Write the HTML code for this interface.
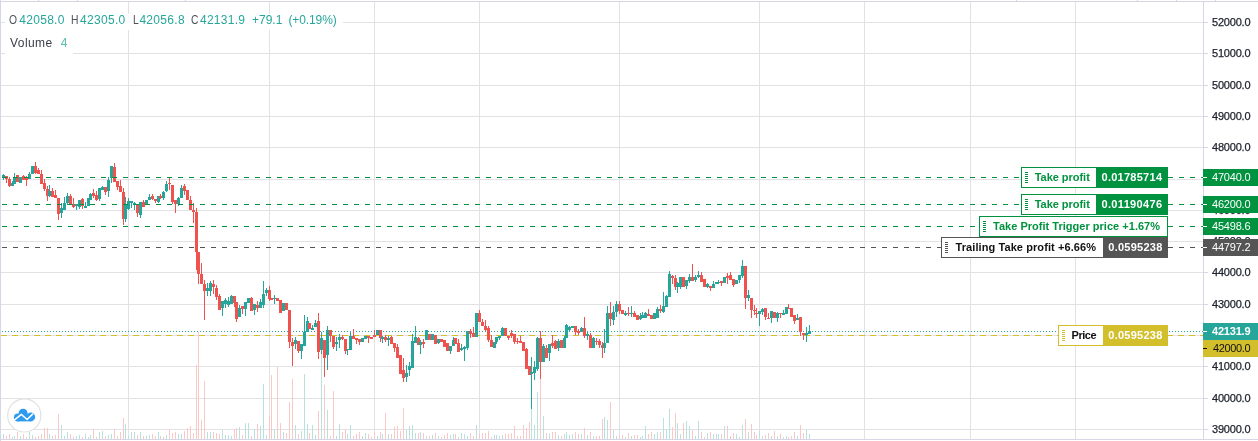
<!DOCTYPE html>
<html><head><meta charset="utf-8"><title>chart</title>
<style>
html,body{margin:0;padding:0;background:#fff;}
body{width:1258px;height:441px;position:relative;overflow:hidden;font-family:"Liberation Sans",sans-serif;}
span{white-space:nowrap;}
.ax{position:absolute;left:1203px;width:55px;height:14px;line-height:14px;font-size:11px;color:#1c202b;-webkit-text-stroke:0.25px #1c202b;white-space:nowrap;}
.pl{position:absolute;left:1203px;width:55px;height:17px;line-height:17px;font-size:11px;white-space:nowrap;}
.pl b{position:absolute;left:0;top:8px;width:4px;height:1px;}
.box{position:absolute;height:21px;box-sizing:border-box;border:1px solid #00923f;background:#fff;font-weight:bold;font-size:11px;line-height:17px;white-space:nowrap;}
.box .v{position:absolute;top:0;height:19px;color:#fff;}
i{position:absolute;width:3px;height:1px;display:block;}
.lgb{position:absolute;background:#fff;}
.lg{position:absolute;left:0;white-space:nowrap;font-size:12px;color:#26a69a;}
</style></head><body>
<svg width="1258" height="441" viewBox="0 0 1258 441" shape-rendering="crispEdges" style="position:absolute;left:0;top:0">
<rect width="1258" height="441" fill="#fff"/>
<rect x="0" y="22" width="1203" height="1" fill="#e2e2e6"/>
<rect x="0" y="53" width="1203" height="1" fill="#e2e2e6"/>
<rect x="0" y="85" width="1203" height="1" fill="#e2e2e6"/>
<rect x="0" y="116" width="1203" height="1" fill="#e2e2e6"/>
<rect x="0" y="147" width="1203" height="1" fill="#e2e2e6"/>
<rect x="0" y="179" width="1203" height="1" fill="#e2e2e6"/>
<rect x="0" y="210" width="1203" height="1" fill="#e2e2e6"/>
<rect x="0" y="241" width="1203" height="1" fill="#e2e2e6"/>
<rect x="0" y="272" width="1203" height="1" fill="#e2e2e6"/>
<rect x="0" y="304" width="1203" height="1" fill="#e2e2e6"/>
<rect x="0" y="335" width="1203" height="1" fill="#e2e2e6"/>
<rect x="0" y="366" width="1203" height="1" fill="#e2e2e6"/>
<rect x="0" y="398" width="1203" height="1" fill="#e2e2e6"/>
<rect x="0" y="429" width="1203" height="1" fill="#e2e2e6"/>
<rect x="128" y="2" width="1" height="437" fill="#e2e2e6"/>
<rect x="269" y="2" width="1" height="437" fill="#e2e2e6"/>
<rect x="374" y="2" width="1" height="437" fill="#e2e2e6"/>
<rect x="479" y="2" width="1" height="437" fill="#e2e2e6"/>
<rect x="619" y="2" width="1" height="437" fill="#e2e2e6"/>
<rect x="759" y="2" width="1" height="437" fill="#e2e2e6"/>
<rect x="864" y="2" width="1" height="437" fill="#e2e2e6"/>
<rect x="970" y="2" width="1" height="437" fill="#e2e2e6"/>
<rect x="1075" y="2" width="1" height="437" fill="#e2e2e6"/>
<rect x="3" y="434" width="1" height="5" fill="#b9e1dd"/>
<rect x="6" y="436" width="1" height="3" fill="#f9c9c8"/>
<rect x="9" y="434" width="1" height="5" fill="#f9c9c8"/>
<rect x="12" y="437" width="1" height="2" fill="#b9e1dd"/>
<rect x="14" y="436" width="1" height="3" fill="#b9e1dd"/>
<rect x="17" y="432" width="1" height="7" fill="#f9c9c8"/>
<rect x="20" y="436" width="1" height="3" fill="#b9e1dd"/>
<rect x="23" y="434" width="1" height="5" fill="#f9c9c8"/>
<rect x="26" y="437" width="1" height="2" fill="#f9c9c8"/>
<rect x="29" y="432" width="1" height="7" fill="#b9e1dd"/>
<rect x="32" y="435" width="1" height="4" fill="#b9e1dd"/>
<rect x="35" y="437" width="1" height="2" fill="#f9c9c8"/>
<rect x="38" y="436" width="1" height="3" fill="#f9c9c8"/>
<rect x="41" y="434" width="1" height="5" fill="#f9c9c8"/>
<rect x="44" y="428" width="1" height="11" fill="#f9c9c8"/>
<rect x="47" y="428" width="1" height="11" fill="#f9c9c8"/>
<rect x="49" y="434" width="1" height="5" fill="#b9e1dd"/>
<rect x="52" y="436" width="1" height="3" fill="#f9c9c8"/>
<rect x="55" y="435" width="1" height="4" fill="#f9c9c8"/>
<rect x="58" y="414" width="1" height="25" fill="#f9c9c8"/>
<rect x="61" y="425" width="1" height="14" fill="#b9e1dd"/>
<rect x="64" y="436" width="1" height="3" fill="#b9e1dd"/>
<rect x="67" y="432" width="1" height="7" fill="#b9e1dd"/>
<rect x="70" y="434" width="1" height="5" fill="#f9c9c8"/>
<rect x="73" y="437" width="1" height="2" fill="#f9c9c8"/>
<rect x="76" y="436" width="1" height="3" fill="#b9e1dd"/>
<rect x="79" y="435" width="1" height="4" fill="#b9e1dd"/>
<rect x="82" y="437" width="1" height="2" fill="#f9c9c8"/>
<rect x="85" y="434" width="1" height="5" fill="#b9e1dd"/>
<rect x="88" y="437" width="1" height="2" fill="#b9e1dd"/>
<rect x="90" y="435" width="1" height="4" fill="#b9e1dd"/>
<rect x="93" y="429" width="1" height="10" fill="#f9c9c8"/>
<rect x="96" y="437" width="1" height="2" fill="#f9c9c8"/>
<rect x="99" y="432" width="1" height="7" fill="#b9e1dd"/>
<rect x="102" y="431" width="1" height="8" fill="#b9e1dd"/>
<rect x="105" y="436" width="1" height="3" fill="#f9c9c8"/>
<rect x="108" y="435" width="1" height="4" fill="#b9e1dd"/>
<rect x="111" y="434" width="1" height="5" fill="#b9e1dd"/>
<rect x="114" y="429" width="1" height="10" fill="#f9c9c8"/>
<rect x="117" y="436" width="1" height="3" fill="#f9c9c8"/>
<rect x="120" y="432" width="1" height="7" fill="#f9c9c8"/>
<rect x="123" y="418" width="1" height="21" fill="#f9c9c8"/>
<rect x="125" y="424" width="1" height="15" fill="#b9e1dd"/>
<rect x="128" y="436" width="1" height="3" fill="#b9e1dd"/>
<rect x="131" y="432" width="1" height="7" fill="#b9e1dd"/>
<rect x="134" y="432" width="1" height="7" fill="#b9e1dd"/>
<rect x="137" y="435" width="1" height="4" fill="#f9c9c8"/>
<rect x="140" y="432" width="1" height="7" fill="#b9e1dd"/>
<rect x="143" y="436" width="1" height="3" fill="#f9c9c8"/>
<rect x="146" y="436" width="1" height="3" fill="#b9e1dd"/>
<rect x="149" y="435" width="1" height="4" fill="#b9e1dd"/>
<rect x="152" y="434" width="1" height="5" fill="#f9c9c8"/>
<rect x="155" y="436" width="1" height="3" fill="#f9c9c8"/>
<rect x="158" y="432" width="1" height="7" fill="#b9e1dd"/>
<rect x="160" y="436" width="1" height="3" fill="#f9c9c8"/>
<rect x="163" y="437" width="1" height="2" fill="#b9e1dd"/>
<rect x="166" y="435" width="1" height="4" fill="#b9e1dd"/>
<rect x="169" y="429" width="1" height="10" fill="#f9c9c8"/>
<rect x="172" y="433" width="1" height="6" fill="#f9c9c8"/>
<rect x="175" y="432" width="1" height="7" fill="#f9c9c8"/>
<rect x="178" y="434" width="1" height="5" fill="#b9e1dd"/>
<rect x="181" y="434" width="1" height="5" fill="#b9e1dd"/>
<rect x="184" y="431" width="1" height="8" fill="#f9c9c8"/>
<rect x="187" y="428" width="1" height="11" fill="#f9c9c8"/>
<rect x="190" y="426" width="1" height="13" fill="#f9c9c8"/>
<rect x="193" y="433" width="1" height="6" fill="#f9c9c8"/>
<rect x="196" y="365" width="1" height="74" fill="#f9c9c8"/>
<rect x="198" y="332" width="1" height="107" fill="#f9c9c8"/>
<rect x="201" y="420" width="1" height="19" fill="#f9c9c8"/>
<rect x="204" y="381" width="1" height="58" fill="#f9c9c8"/>
<rect x="207" y="432" width="1" height="7" fill="#b9e1dd"/>
<rect x="210" y="432" width="1" height="7" fill="#b9e1dd"/>
<rect x="213" y="432" width="1" height="7" fill="#f9c9c8"/>
<rect x="216" y="433" width="1" height="6" fill="#f9c9c8"/>
<rect x="219" y="434" width="1" height="5" fill="#f9c9c8"/>
<rect x="222" y="430" width="1" height="9" fill="#b9e1dd"/>
<rect x="225" y="435" width="1" height="4" fill="#b9e1dd"/>
<rect x="228" y="435" width="1" height="4" fill="#b9e1dd"/>
<rect x="231" y="436" width="1" height="3" fill="#b9e1dd"/>
<rect x="234" y="429" width="1" height="10" fill="#f9c9c8"/>
<rect x="236" y="428" width="1" height="11" fill="#f9c9c8"/>
<rect x="239" y="427" width="1" height="12" fill="#b9e1dd"/>
<rect x="242" y="435" width="1" height="4" fill="#f9c9c8"/>
<rect x="245" y="423" width="1" height="16" fill="#b9e1dd"/>
<rect x="248" y="423" width="1" height="16" fill="#b9e1dd"/>
<rect x="251" y="436" width="1" height="3" fill="#f9c9c8"/>
<rect x="254" y="429" width="1" height="10" fill="#b9e1dd"/>
<rect x="257" y="424" width="1" height="15" fill="#f9c9c8"/>
<rect x="260" y="426" width="1" height="13" fill="#b9e1dd"/>
<rect x="263" y="384" width="1" height="55" fill="#b9e1dd"/>
<rect x="266" y="435" width="1" height="4" fill="#b9e1dd"/>
<rect x="269" y="415" width="1" height="24" fill="#f9c9c8"/>
<rect x="271" y="375" width="1" height="64" fill="#f9c9c8"/>
<rect x="274" y="429" width="1" height="10" fill="#b9e1dd"/>
<rect x="277" y="367" width="1" height="72" fill="#f9c9c8"/>
<rect x="280" y="423" width="1" height="16" fill="#f9c9c8"/>
<rect x="283" y="432" width="1" height="7" fill="#b9e1dd"/>
<rect x="286" y="433" width="1" height="6" fill="#f9c9c8"/>
<rect x="289" y="402" width="1" height="37" fill="#f9c9c8"/>
<rect x="292" y="379" width="1" height="60" fill="#f9c9c8"/>
<rect x="295" y="425" width="1" height="14" fill="#b9e1dd"/>
<rect x="298" y="434" width="1" height="5" fill="#f9c9c8"/>
<rect x="301" y="431" width="1" height="8" fill="#b9e1dd"/>
<rect x="304" y="374" width="1" height="65" fill="#b9e1dd"/>
<rect x="307" y="424" width="1" height="15" fill="#b9e1dd"/>
<rect x="309" y="433" width="1" height="6" fill="#f9c9c8"/>
<rect x="312" y="425" width="1" height="14" fill="#b9e1dd"/>
<rect x="315" y="435" width="1" height="4" fill="#b9e1dd"/>
<rect x="318" y="411" width="1" height="28" fill="#f9c9c8"/>
<rect x="321" y="354" width="1" height="85" fill="#b9e1dd"/>
<rect x="324" y="385" width="1" height="54" fill="#f9c9c8"/>
<rect x="327" y="410" width="1" height="29" fill="#b9e1dd"/>
<rect x="330" y="436" width="1" height="3" fill="#f9c9c8"/>
<rect x="333" y="391" width="1" height="48" fill="#f9c9c8"/>
<rect x="336" y="436" width="1" height="3" fill="#b9e1dd"/>
<rect x="339" y="424" width="1" height="15" fill="#b9e1dd"/>
<rect x="342" y="432" width="1" height="7" fill="#f9c9c8"/>
<rect x="345" y="429" width="1" height="10" fill="#f9c9c8"/>
<rect x="347" y="434" width="1" height="5" fill="#b9e1dd"/>
<rect x="350" y="425" width="1" height="14" fill="#b9e1dd"/>
<rect x="353" y="436" width="1" height="3" fill="#f9c9c8"/>
<rect x="356" y="434" width="1" height="5" fill="#f9c9c8"/>
<rect x="359" y="432" width="1" height="7" fill="#f9c9c8"/>
<rect x="362" y="436" width="1" height="3" fill="#b9e1dd"/>
<rect x="365" y="433" width="1" height="6" fill="#b9e1dd"/>
<rect x="368" y="434" width="1" height="5" fill="#f9c9c8"/>
<rect x="371" y="437" width="1" height="2" fill="#f9c9c8"/>
<rect x="374" y="432" width="1" height="7" fill="#f9c9c8"/>
<rect x="377" y="436" width="1" height="3" fill="#b9e1dd"/>
<rect x="380" y="432" width="1" height="7" fill="#f9c9c8"/>
<rect x="382" y="434" width="1" height="5" fill="#b9e1dd"/>
<rect x="385" y="413" width="1" height="26" fill="#f9c9c8"/>
<rect x="388" y="434" width="1" height="5" fill="#b9e1dd"/>
<rect x="391" y="434" width="1" height="5" fill="#f9c9c8"/>
<rect x="394" y="427" width="1" height="12" fill="#f9c9c8"/>
<rect x="397" y="426" width="1" height="13" fill="#f9c9c8"/>
<rect x="400" y="431" width="1" height="8" fill="#f9c9c8"/>
<rect x="403" y="408" width="1" height="31" fill="#f9c9c8"/>
<rect x="406" y="430" width="1" height="9" fill="#b9e1dd"/>
<rect x="409" y="426" width="1" height="13" fill="#b9e1dd"/>
<rect x="412" y="425" width="1" height="14" fill="#b9e1dd"/>
<rect x="415" y="433" width="1" height="6" fill="#b9e1dd"/>
<rect x="418" y="433" width="1" height="6" fill="#f9c9c8"/>
<rect x="420" y="432" width="1" height="7" fill="#b9e1dd"/>
<rect x="423" y="433" width="1" height="6" fill="#f9c9c8"/>
<rect x="426" y="436" width="1" height="3" fill="#b9e1dd"/>
<rect x="429" y="436" width="1" height="3" fill="#f9c9c8"/>
<rect x="432" y="435" width="1" height="4" fill="#b9e1dd"/>
<rect x="435" y="433" width="1" height="6" fill="#f9c9c8"/>
<rect x="438" y="436" width="1" height="3" fill="#b9e1dd"/>
<rect x="441" y="437" width="1" height="2" fill="#f9c9c8"/>
<rect x="444" y="435" width="1" height="4" fill="#f9c9c8"/>
<rect x="447" y="433" width="1" height="6" fill="#f9c9c8"/>
<rect x="450" y="435" width="1" height="4" fill="#b9e1dd"/>
<rect x="453" y="434" width="1" height="5" fill="#b9e1dd"/>
<rect x="455" y="434" width="1" height="5" fill="#f9c9c8"/>
<rect x="458" y="437" width="1" height="2" fill="#f9c9c8"/>
<rect x="461" y="433" width="1" height="6" fill="#b9e1dd"/>
<rect x="464" y="434" width="1" height="5" fill="#b9e1dd"/>
<rect x="467" y="436" width="1" height="3" fill="#b9e1dd"/>
<rect x="470" y="433" width="1" height="6" fill="#f9c9c8"/>
<rect x="473" y="436" width="1" height="3" fill="#f9c9c8"/>
<rect x="476" y="425" width="1" height="14" fill="#b9e1dd"/>
<rect x="479" y="433" width="1" height="6" fill="#f9c9c8"/>
<rect x="482" y="433" width="1" height="6" fill="#f9c9c8"/>
<rect x="485" y="433" width="1" height="6" fill="#f9c9c8"/>
<rect x="488" y="431" width="1" height="8" fill="#f9c9c8"/>
<rect x="491" y="437" width="1" height="2" fill="#f9c9c8"/>
<rect x="494" y="435" width="1" height="4" fill="#b9e1dd"/>
<rect x="496" y="435" width="1" height="4" fill="#b9e1dd"/>
<rect x="499" y="436" width="1" height="3" fill="#b9e1dd"/>
<rect x="502" y="435" width="1" height="4" fill="#b9e1dd"/>
<rect x="505" y="434" width="1" height="5" fill="#f9c9c8"/>
<rect x="508" y="434" width="1" height="5" fill="#f9c9c8"/>
<rect x="511" y="433" width="1" height="6" fill="#f9c9c8"/>
<rect x="514" y="426" width="1" height="13" fill="#f9c9c8"/>
<rect x="517" y="436" width="1" height="3" fill="#f9c9c8"/>
<rect x="520" y="436" width="1" height="3" fill="#f9c9c8"/>
<rect x="523" y="425" width="1" height="14" fill="#f9c9c8"/>
<rect x="526" y="428" width="1" height="11" fill="#f9c9c8"/>
<rect x="529" y="422" width="1" height="17" fill="#f9c9c8"/>
<rect x="531" y="409" width="1" height="30" fill="#b9e1dd"/>
<rect x="534" y="425" width="1" height="14" fill="#b9e1dd"/>
<rect x="537" y="392" width="1" height="47" fill="#b9e1dd"/>
<rect x="540" y="378" width="1" height="61" fill="#f9c9c8"/>
<rect x="543" y="416" width="1" height="23" fill="#b9e1dd"/>
<rect x="546" y="433" width="1" height="6" fill="#f9c9c8"/>
<rect x="549" y="434" width="1" height="5" fill="#b9e1dd"/>
<rect x="552" y="432" width="1" height="7" fill="#f9c9c8"/>
<rect x="555" y="432" width="1" height="7" fill="#f9c9c8"/>
<rect x="558" y="435" width="1" height="4" fill="#b9e1dd"/>
<rect x="561" y="436" width="1" height="3" fill="#f9c9c8"/>
<rect x="564" y="434" width="1" height="5" fill="#b9e1dd"/>
<rect x="566" y="432" width="1" height="7" fill="#b9e1dd"/>
<rect x="569" y="435" width="1" height="4" fill="#b9e1dd"/>
<rect x="572" y="434" width="1" height="5" fill="#b9e1dd"/>
<rect x="575" y="432" width="1" height="7" fill="#f9c9c8"/>
<rect x="578" y="434" width="1" height="5" fill="#f9c9c8"/>
<rect x="581" y="434" width="1" height="5" fill="#b9e1dd"/>
<rect x="584" y="428" width="1" height="11" fill="#f9c9c8"/>
<rect x="587" y="435" width="1" height="4" fill="#b9e1dd"/>
<rect x="590" y="432" width="1" height="7" fill="#f9c9c8"/>
<rect x="593" y="436" width="1" height="3" fill="#b9e1dd"/>
<rect x="596" y="436" width="1" height="3" fill="#f9c9c8"/>
<rect x="599" y="436" width="1" height="3" fill="#f9c9c8"/>
<rect x="602" y="419" width="1" height="20" fill="#f9c9c8"/>
<rect x="604" y="417" width="1" height="22" fill="#b9e1dd"/>
<rect x="607" y="420" width="1" height="19" fill="#b9e1dd"/>
<rect x="610" y="402" width="1" height="37" fill="#f9c9c8"/>
<rect x="613" y="430" width="1" height="9" fill="#b9e1dd"/>
<rect x="616" y="436" width="1" height="3" fill="#b9e1dd"/>
<rect x="619" y="435" width="1" height="4" fill="#f9c9c8"/>
<rect x="622" y="435" width="1" height="4" fill="#f9c9c8"/>
<rect x="625" y="437" width="1" height="2" fill="#b9e1dd"/>
<rect x="628" y="433" width="1" height="6" fill="#f9c9c8"/>
<rect x="631" y="436" width="1" height="3" fill="#b9e1dd"/>
<rect x="634" y="435" width="1" height="4" fill="#f9c9c8"/>
<rect x="637" y="435" width="1" height="4" fill="#f9c9c8"/>
<rect x="640" y="437" width="1" height="2" fill="#b9e1dd"/>
<rect x="642" y="436" width="1" height="3" fill="#b9e1dd"/>
<rect x="645" y="426" width="1" height="13" fill="#b9e1dd"/>
<rect x="648" y="434" width="1" height="5" fill="#f9c9c8"/>
<rect x="651" y="432" width="1" height="7" fill="#f9c9c8"/>
<rect x="654" y="434" width="1" height="5" fill="#b9e1dd"/>
<rect x="657" y="432" width="1" height="7" fill="#b9e1dd"/>
<rect x="660" y="432" width="1" height="7" fill="#f9c9c8"/>
<rect x="663" y="418" width="1" height="21" fill="#b9e1dd"/>
<rect x="666" y="429" width="1" height="10" fill="#b9e1dd"/>
<rect x="669" y="409" width="1" height="30" fill="#b9e1dd"/>
<rect x="672" y="427" width="1" height="12" fill="#f9c9c8"/>
<rect x="675" y="413" width="1" height="26" fill="#f9c9c8"/>
<rect x="677" y="423" width="1" height="16" fill="#b9e1dd"/>
<rect x="680" y="434" width="1" height="5" fill="#b9e1dd"/>
<rect x="683" y="423" width="1" height="16" fill="#f9c9c8"/>
<rect x="686" y="421" width="1" height="18" fill="#b9e1dd"/>
<rect x="689" y="426" width="1" height="13" fill="#b9e1dd"/>
<rect x="692" y="430" width="1" height="9" fill="#f9c9c8"/>
<rect x="695" y="436" width="1" height="3" fill="#b9e1dd"/>
<rect x="698" y="421" width="1" height="18" fill="#b9e1dd"/>
<rect x="701" y="432" width="1" height="7" fill="#f9c9c8"/>
<rect x="704" y="437" width="1" height="2" fill="#f9c9c8"/>
<rect x="707" y="433" width="1" height="6" fill="#b9e1dd"/>
<rect x="710" y="432" width="1" height="7" fill="#f9c9c8"/>
<rect x="713" y="434" width="1" height="5" fill="#b9e1dd"/>
<rect x="716" y="434" width="1" height="5" fill="#b9e1dd"/>
<rect x="718" y="434" width="1" height="5" fill="#b9e1dd"/>
<rect x="721" y="434" width="1" height="5" fill="#f9c9c8"/>
<rect x="724" y="426" width="1" height="13" fill="#b9e1dd"/>
<rect x="727" y="426" width="1" height="13" fill="#f9c9c8"/>
<rect x="730" y="436" width="1" height="3" fill="#f9c9c8"/>
<rect x="733" y="433" width="1" height="6" fill="#f9c9c8"/>
<rect x="736" y="434" width="1" height="5" fill="#b9e1dd"/>
<rect x="739" y="437" width="1" height="2" fill="#b9e1dd"/>
<rect x="742" y="425" width="1" height="14" fill="#b9e1dd"/>
<rect x="745" y="419" width="1" height="20" fill="#f9c9c8"/>
<rect x="748" y="432" width="1" height="7" fill="#b9e1dd"/>
<rect x="751" y="424" width="1" height="15" fill="#f9c9c8"/>
<rect x="754" y="432" width="1" height="7" fill="#f9c9c8"/>
<rect x="756" y="435" width="1" height="4" fill="#f9c9c8"/>
<rect x="759" y="430" width="1" height="9" fill="#b9e1dd"/>
<rect x="762" y="436" width="1" height="3" fill="#b9e1dd"/>
<rect x="765" y="435" width="1" height="4" fill="#f9c9c8"/>
<rect x="768" y="433" width="1" height="6" fill="#f9c9c8"/>
<rect x="771" y="436" width="1" height="3" fill="#b9e1dd"/>
<rect x="774" y="431" width="1" height="8" fill="#f9c9c8"/>
<rect x="777" y="436" width="1" height="3" fill="#b9e1dd"/>
<rect x="780" y="434" width="1" height="5" fill="#f9c9c8"/>
<rect x="783" y="437" width="1" height="2" fill="#b9e1dd"/>
<rect x="786" y="436" width="1" height="3" fill="#b9e1dd"/>
<rect x="788" y="437" width="1" height="2" fill="#f9c9c8"/>
<rect x="791" y="436" width="1" height="3" fill="#f9c9c8"/>
<rect x="794" y="432" width="1" height="7" fill="#f9c9c8"/>
<rect x="797" y="436" width="1" height="3" fill="#b9e1dd"/>
<rect x="800" y="425" width="1" height="14" fill="#f9c9c8"/>
<rect x="803" y="433" width="1" height="6" fill="#f9c9c8"/>
<rect x="806" y="430" width="1" height="9" fill="#b9e1dd"/>
<rect x="809" y="434" width="1" height="5" fill="#b9e1dd"/>
<rect x="2" y="331" width="1" height="1" fill="#26a69a"/><rect x="5" y="331" width="1" height="1" fill="#26a69a"/><rect x="8" y="331" width="1" height="1" fill="#26a69a"/><rect x="11" y="331" width="1" height="1" fill="#26a69a"/><rect x="14" y="331" width="1" height="1" fill="#26a69a"/><rect x="17" y="331" width="1" height="1" fill="#26a69a"/><rect x="20" y="331" width="1" height="1" fill="#26a69a"/><rect x="23" y="331" width="1" height="1" fill="#26a69a"/><rect x="26" y="331" width="1" height="1" fill="#26a69a"/><rect x="29" y="331" width="1" height="1" fill="#26a69a"/><rect x="32" y="331" width="1" height="1" fill="#26a69a"/><rect x="35" y="331" width="1" height="1" fill="#26a69a"/><rect x="38" y="331" width="1" height="1" fill="#26a69a"/><rect x="41" y="331" width="1" height="1" fill="#26a69a"/><rect x="44" y="331" width="1" height="1" fill="#26a69a"/><rect x="47" y="331" width="1" height="1" fill="#26a69a"/><rect x="50" y="331" width="1" height="1" fill="#26a69a"/><rect x="53" y="331" width="1" height="1" fill="#26a69a"/><rect x="56" y="331" width="1" height="1" fill="#26a69a"/><rect x="59" y="331" width="1" height="1" fill="#26a69a"/><rect x="62" y="331" width="1" height="1" fill="#26a69a"/><rect x="65" y="331" width="1" height="1" fill="#26a69a"/><rect x="68" y="331" width="1" height="1" fill="#26a69a"/><rect x="71" y="331" width="1" height="1" fill="#26a69a"/><rect x="74" y="331" width="1" height="1" fill="#26a69a"/><rect x="77" y="331" width="1" height="1" fill="#26a69a"/><rect x="80" y="331" width="1" height="1" fill="#26a69a"/><rect x="83" y="331" width="1" height="1" fill="#26a69a"/><rect x="86" y="331" width="1" height="1" fill="#26a69a"/><rect x="89" y="331" width="1" height="1" fill="#26a69a"/><rect x="92" y="331" width="1" height="1" fill="#26a69a"/><rect x="95" y="331" width="1" height="1" fill="#26a69a"/><rect x="98" y="331" width="1" height="1" fill="#26a69a"/><rect x="101" y="331" width="1" height="1" fill="#26a69a"/><rect x="104" y="331" width="1" height="1" fill="#26a69a"/><rect x="107" y="331" width="1" height="1" fill="#26a69a"/><rect x="110" y="331" width="1" height="1" fill="#26a69a"/><rect x="113" y="331" width="1" height="1" fill="#26a69a"/><rect x="116" y="331" width="1" height="1" fill="#26a69a"/><rect x="119" y="331" width="1" height="1" fill="#26a69a"/><rect x="122" y="331" width="1" height="1" fill="#26a69a"/><rect x="125" y="331" width="1" height="1" fill="#26a69a"/><rect x="128" y="331" width="1" height="1" fill="#26a69a"/><rect x="131" y="331" width="1" height="1" fill="#26a69a"/><rect x="134" y="331" width="1" height="1" fill="#26a69a"/><rect x="137" y="331" width="1" height="1" fill="#26a69a"/><rect x="140" y="331" width="1" height="1" fill="#26a69a"/><rect x="143" y="331" width="1" height="1" fill="#26a69a"/><rect x="146" y="331" width="1" height="1" fill="#26a69a"/><rect x="149" y="331" width="1" height="1" fill="#26a69a"/><rect x="152" y="331" width="1" height="1" fill="#26a69a"/><rect x="155" y="331" width="1" height="1" fill="#26a69a"/><rect x="158" y="331" width="1" height="1" fill="#26a69a"/><rect x="161" y="331" width="1" height="1" fill="#26a69a"/><rect x="164" y="331" width="1" height="1" fill="#26a69a"/><rect x="167" y="331" width="1" height="1" fill="#26a69a"/><rect x="170" y="331" width="1" height="1" fill="#26a69a"/><rect x="173" y="331" width="1" height="1" fill="#26a69a"/><rect x="176" y="331" width="1" height="1" fill="#26a69a"/><rect x="179" y="331" width="1" height="1" fill="#26a69a"/><rect x="182" y="331" width="1" height="1" fill="#26a69a"/><rect x="185" y="331" width="1" height="1" fill="#26a69a"/><rect x="188" y="331" width="1" height="1" fill="#26a69a"/><rect x="191" y="331" width="1" height="1" fill="#26a69a"/><rect x="194" y="331" width="1" height="1" fill="#26a69a"/><rect x="197" y="331" width="1" height="1" fill="#26a69a"/><rect x="200" y="331" width="1" height="1" fill="#26a69a"/><rect x="203" y="331" width="1" height="1" fill="#26a69a"/><rect x="206" y="331" width="1" height="1" fill="#26a69a"/><rect x="209" y="331" width="1" height="1" fill="#26a69a"/><rect x="212" y="331" width="1" height="1" fill="#26a69a"/><rect x="215" y="331" width="1" height="1" fill="#26a69a"/><rect x="218" y="331" width="1" height="1" fill="#26a69a"/><rect x="221" y="331" width="1" height="1" fill="#26a69a"/><rect x="224" y="331" width="1" height="1" fill="#26a69a"/><rect x="227" y="331" width="1" height="1" fill="#26a69a"/><rect x="230" y="331" width="1" height="1" fill="#26a69a"/><rect x="233" y="331" width="1" height="1" fill="#26a69a"/><rect x="236" y="331" width="1" height="1" fill="#26a69a"/><rect x="239" y="331" width="1" height="1" fill="#26a69a"/><rect x="242" y="331" width="1" height="1" fill="#26a69a"/><rect x="245" y="331" width="1" height="1" fill="#26a69a"/><rect x="248" y="331" width="1" height="1" fill="#26a69a"/><rect x="251" y="331" width="1" height="1" fill="#26a69a"/><rect x="254" y="331" width="1" height="1" fill="#26a69a"/><rect x="257" y="331" width="1" height="1" fill="#26a69a"/><rect x="260" y="331" width="1" height="1" fill="#26a69a"/><rect x="263" y="331" width="1" height="1" fill="#26a69a"/><rect x="266" y="331" width="1" height="1" fill="#26a69a"/><rect x="269" y="331" width="1" height="1" fill="#26a69a"/><rect x="272" y="331" width="1" height="1" fill="#26a69a"/><rect x="275" y="331" width="1" height="1" fill="#26a69a"/><rect x="278" y="331" width="1" height="1" fill="#26a69a"/><rect x="281" y="331" width="1" height="1" fill="#26a69a"/><rect x="284" y="331" width="1" height="1" fill="#26a69a"/><rect x="287" y="331" width="1" height="1" fill="#26a69a"/><rect x="290" y="331" width="1" height="1" fill="#26a69a"/><rect x="293" y="331" width="1" height="1" fill="#26a69a"/><rect x="296" y="331" width="1" height="1" fill="#26a69a"/><rect x="299" y="331" width="1" height="1" fill="#26a69a"/><rect x="302" y="331" width="1" height="1" fill="#26a69a"/><rect x="305" y="331" width="1" height="1" fill="#26a69a"/><rect x="308" y="331" width="1" height="1" fill="#26a69a"/><rect x="311" y="331" width="1" height="1" fill="#26a69a"/><rect x="314" y="331" width="1" height="1" fill="#26a69a"/><rect x="317" y="331" width="1" height="1" fill="#26a69a"/><rect x="320" y="331" width="1" height="1" fill="#26a69a"/><rect x="323" y="331" width="1" height="1" fill="#26a69a"/><rect x="326" y="331" width="1" height="1" fill="#26a69a"/><rect x="329" y="331" width="1" height="1" fill="#26a69a"/><rect x="332" y="331" width="1" height="1" fill="#26a69a"/><rect x="335" y="331" width="1" height="1" fill="#26a69a"/><rect x="338" y="331" width="1" height="1" fill="#26a69a"/><rect x="341" y="331" width="1" height="1" fill="#26a69a"/><rect x="344" y="331" width="1" height="1" fill="#26a69a"/><rect x="347" y="331" width="1" height="1" fill="#26a69a"/><rect x="350" y="331" width="1" height="1" fill="#26a69a"/><rect x="353" y="331" width="1" height="1" fill="#26a69a"/><rect x="356" y="331" width="1" height="1" fill="#26a69a"/><rect x="359" y="331" width="1" height="1" fill="#26a69a"/><rect x="362" y="331" width="1" height="1" fill="#26a69a"/><rect x="365" y="331" width="1" height="1" fill="#26a69a"/><rect x="368" y="331" width="1" height="1" fill="#26a69a"/><rect x="371" y="331" width="1" height="1" fill="#26a69a"/><rect x="374" y="331" width="1" height="1" fill="#26a69a"/><rect x="377" y="331" width="1" height="1" fill="#26a69a"/><rect x="380" y="331" width="1" height="1" fill="#26a69a"/><rect x="383" y="331" width="1" height="1" fill="#26a69a"/><rect x="386" y="331" width="1" height="1" fill="#26a69a"/><rect x="389" y="331" width="1" height="1" fill="#26a69a"/><rect x="392" y="331" width="1" height="1" fill="#26a69a"/><rect x="395" y="331" width="1" height="1" fill="#26a69a"/><rect x="398" y="331" width="1" height="1" fill="#26a69a"/><rect x="401" y="331" width="1" height="1" fill="#26a69a"/><rect x="404" y="331" width="1" height="1" fill="#26a69a"/><rect x="407" y="331" width="1" height="1" fill="#26a69a"/><rect x="410" y="331" width="1" height="1" fill="#26a69a"/><rect x="413" y="331" width="1" height="1" fill="#26a69a"/><rect x="416" y="331" width="1" height="1" fill="#26a69a"/><rect x="419" y="331" width="1" height="1" fill="#26a69a"/><rect x="422" y="331" width="1" height="1" fill="#26a69a"/><rect x="425" y="331" width="1" height="1" fill="#26a69a"/><rect x="428" y="331" width="1" height="1" fill="#26a69a"/><rect x="431" y="331" width="1" height="1" fill="#26a69a"/><rect x="434" y="331" width="1" height="1" fill="#26a69a"/><rect x="437" y="331" width="1" height="1" fill="#26a69a"/><rect x="440" y="331" width="1" height="1" fill="#26a69a"/><rect x="443" y="331" width="1" height="1" fill="#26a69a"/><rect x="446" y="331" width="1" height="1" fill="#26a69a"/><rect x="449" y="331" width="1" height="1" fill="#26a69a"/><rect x="452" y="331" width="1" height="1" fill="#26a69a"/><rect x="455" y="331" width="1" height="1" fill="#26a69a"/><rect x="458" y="331" width="1" height="1" fill="#26a69a"/><rect x="461" y="331" width="1" height="1" fill="#26a69a"/><rect x="464" y="331" width="1" height="1" fill="#26a69a"/><rect x="467" y="331" width="1" height="1" fill="#26a69a"/><rect x="470" y="331" width="1" height="1" fill="#26a69a"/><rect x="473" y="331" width="1" height="1" fill="#26a69a"/><rect x="476" y="331" width="1" height="1" fill="#26a69a"/><rect x="479" y="331" width="1" height="1" fill="#26a69a"/><rect x="482" y="331" width="1" height="1" fill="#26a69a"/><rect x="485" y="331" width="1" height="1" fill="#26a69a"/><rect x="488" y="331" width="1" height="1" fill="#26a69a"/><rect x="491" y="331" width="1" height="1" fill="#26a69a"/><rect x="494" y="331" width="1" height="1" fill="#26a69a"/><rect x="497" y="331" width="1" height="1" fill="#26a69a"/><rect x="500" y="331" width="1" height="1" fill="#26a69a"/><rect x="503" y="331" width="1" height="1" fill="#26a69a"/><rect x="506" y="331" width="1" height="1" fill="#26a69a"/><rect x="509" y="331" width="1" height="1" fill="#26a69a"/><rect x="512" y="331" width="1" height="1" fill="#26a69a"/><rect x="515" y="331" width="1" height="1" fill="#26a69a"/><rect x="518" y="331" width="1" height="1" fill="#26a69a"/><rect x="521" y="331" width="1" height="1" fill="#26a69a"/><rect x="524" y="331" width="1" height="1" fill="#26a69a"/><rect x="527" y="331" width="1" height="1" fill="#26a69a"/><rect x="530" y="331" width="1" height="1" fill="#26a69a"/><rect x="533" y="331" width="1" height="1" fill="#26a69a"/><rect x="536" y="331" width="1" height="1" fill="#26a69a"/><rect x="539" y="331" width="1" height="1" fill="#26a69a"/><rect x="542" y="331" width="1" height="1" fill="#26a69a"/><rect x="545" y="331" width="1" height="1" fill="#26a69a"/><rect x="548" y="331" width="1" height="1" fill="#26a69a"/><rect x="551" y="331" width="1" height="1" fill="#26a69a"/><rect x="554" y="331" width="1" height="1" fill="#26a69a"/><rect x="557" y="331" width="1" height="1" fill="#26a69a"/><rect x="560" y="331" width="1" height="1" fill="#26a69a"/><rect x="563" y="331" width="1" height="1" fill="#26a69a"/><rect x="566" y="331" width="1" height="1" fill="#26a69a"/><rect x="569" y="331" width="1" height="1" fill="#26a69a"/><rect x="572" y="331" width="1" height="1" fill="#26a69a"/><rect x="575" y="331" width="1" height="1" fill="#26a69a"/><rect x="578" y="331" width="1" height="1" fill="#26a69a"/><rect x="581" y="331" width="1" height="1" fill="#26a69a"/><rect x="584" y="331" width="1" height="1" fill="#26a69a"/><rect x="587" y="331" width="1" height="1" fill="#26a69a"/><rect x="590" y="331" width="1" height="1" fill="#26a69a"/><rect x="593" y="331" width="1" height="1" fill="#26a69a"/><rect x="596" y="331" width="1" height="1" fill="#26a69a"/><rect x="599" y="331" width="1" height="1" fill="#26a69a"/><rect x="602" y="331" width="1" height="1" fill="#26a69a"/><rect x="605" y="331" width="1" height="1" fill="#26a69a"/><rect x="608" y="331" width="1" height="1" fill="#26a69a"/><rect x="611" y="331" width="1" height="1" fill="#26a69a"/><rect x="614" y="331" width="1" height="1" fill="#26a69a"/><rect x="617" y="331" width="1" height="1" fill="#26a69a"/><rect x="620" y="331" width="1" height="1" fill="#26a69a"/><rect x="623" y="331" width="1" height="1" fill="#26a69a"/><rect x="626" y="331" width="1" height="1" fill="#26a69a"/><rect x="629" y="331" width="1" height="1" fill="#26a69a"/><rect x="632" y="331" width="1" height="1" fill="#26a69a"/><rect x="635" y="331" width="1" height="1" fill="#26a69a"/><rect x="638" y="331" width="1" height="1" fill="#26a69a"/><rect x="641" y="331" width="1" height="1" fill="#26a69a"/><rect x="644" y="331" width="1" height="1" fill="#26a69a"/><rect x="647" y="331" width="1" height="1" fill="#26a69a"/><rect x="650" y="331" width="1" height="1" fill="#26a69a"/><rect x="653" y="331" width="1" height="1" fill="#26a69a"/><rect x="656" y="331" width="1" height="1" fill="#26a69a"/><rect x="659" y="331" width="1" height="1" fill="#26a69a"/><rect x="662" y="331" width="1" height="1" fill="#26a69a"/><rect x="665" y="331" width="1" height="1" fill="#26a69a"/><rect x="668" y="331" width="1" height="1" fill="#26a69a"/><rect x="671" y="331" width="1" height="1" fill="#26a69a"/><rect x="674" y="331" width="1" height="1" fill="#26a69a"/><rect x="677" y="331" width="1" height="1" fill="#26a69a"/><rect x="680" y="331" width="1" height="1" fill="#26a69a"/><rect x="683" y="331" width="1" height="1" fill="#26a69a"/><rect x="686" y="331" width="1" height="1" fill="#26a69a"/><rect x="689" y="331" width="1" height="1" fill="#26a69a"/><rect x="692" y="331" width="1" height="1" fill="#26a69a"/><rect x="695" y="331" width="1" height="1" fill="#26a69a"/><rect x="698" y="331" width="1" height="1" fill="#26a69a"/><rect x="701" y="331" width="1" height="1" fill="#26a69a"/><rect x="704" y="331" width="1" height="1" fill="#26a69a"/><rect x="707" y="331" width="1" height="1" fill="#26a69a"/><rect x="710" y="331" width="1" height="1" fill="#26a69a"/><rect x="713" y="331" width="1" height="1" fill="#26a69a"/><rect x="716" y="331" width="1" height="1" fill="#26a69a"/><rect x="719" y="331" width="1" height="1" fill="#26a69a"/><rect x="722" y="331" width="1" height="1" fill="#26a69a"/><rect x="725" y="331" width="1" height="1" fill="#26a69a"/><rect x="728" y="331" width="1" height="1" fill="#26a69a"/><rect x="731" y="331" width="1" height="1" fill="#26a69a"/><rect x="734" y="331" width="1" height="1" fill="#26a69a"/><rect x="737" y="331" width="1" height="1" fill="#26a69a"/><rect x="740" y="331" width="1" height="1" fill="#26a69a"/><rect x="743" y="331" width="1" height="1" fill="#26a69a"/><rect x="746" y="331" width="1" height="1" fill="#26a69a"/><rect x="749" y="331" width="1" height="1" fill="#26a69a"/><rect x="752" y="331" width="1" height="1" fill="#26a69a"/><rect x="755" y="331" width="1" height="1" fill="#26a69a"/><rect x="758" y="331" width="1" height="1" fill="#26a69a"/><rect x="761" y="331" width="1" height="1" fill="#26a69a"/><rect x="764" y="331" width="1" height="1" fill="#26a69a"/><rect x="767" y="331" width="1" height="1" fill="#26a69a"/><rect x="770" y="331" width="1" height="1" fill="#26a69a"/><rect x="773" y="331" width="1" height="1" fill="#26a69a"/><rect x="776" y="331" width="1" height="1" fill="#26a69a"/><rect x="779" y="331" width="1" height="1" fill="#26a69a"/><rect x="782" y="331" width="1" height="1" fill="#26a69a"/><rect x="785" y="331" width="1" height="1" fill="#26a69a"/><rect x="788" y="331" width="1" height="1" fill="#26a69a"/><rect x="791" y="331" width="1" height="1" fill="#26a69a"/><rect x="794" y="331" width="1" height="1" fill="#26a69a"/><rect x="797" y="331" width="1" height="1" fill="#26a69a"/><rect x="800" y="331" width="1" height="1" fill="#26a69a"/><rect x="803" y="331" width="1" height="1" fill="#26a69a"/><rect x="806" y="331" width="1" height="1" fill="#26a69a"/><rect x="809" y="331" width="1" height="1" fill="#26a69a"/><rect x="812" y="331" width="1" height="1" fill="#26a69a"/><rect x="815" y="331" width="1" height="1" fill="#26a69a"/><rect x="818" y="331" width="1" height="1" fill="#26a69a"/><rect x="821" y="331" width="1" height="1" fill="#26a69a"/><rect x="824" y="331" width="1" height="1" fill="#26a69a"/><rect x="827" y="331" width="1" height="1" fill="#26a69a"/><rect x="830" y="331" width="1" height="1" fill="#26a69a"/><rect x="833" y="331" width="1" height="1" fill="#26a69a"/><rect x="836" y="331" width="1" height="1" fill="#26a69a"/><rect x="839" y="331" width="1" height="1" fill="#26a69a"/><rect x="842" y="331" width="1" height="1" fill="#26a69a"/><rect x="845" y="331" width="1" height="1" fill="#26a69a"/><rect x="848" y="331" width="1" height="1" fill="#26a69a"/><rect x="851" y="331" width="1" height="1" fill="#26a69a"/><rect x="854" y="331" width="1" height="1" fill="#26a69a"/><rect x="857" y="331" width="1" height="1" fill="#26a69a"/><rect x="860" y="331" width="1" height="1" fill="#26a69a"/><rect x="863" y="331" width="1" height="1" fill="#26a69a"/><rect x="866" y="331" width="1" height="1" fill="#26a69a"/><rect x="869" y="331" width="1" height="1" fill="#26a69a"/><rect x="872" y="331" width="1" height="1" fill="#26a69a"/><rect x="875" y="331" width="1" height="1" fill="#26a69a"/><rect x="878" y="331" width="1" height="1" fill="#26a69a"/><rect x="881" y="331" width="1" height="1" fill="#26a69a"/><rect x="884" y="331" width="1" height="1" fill="#26a69a"/><rect x="887" y="331" width="1" height="1" fill="#26a69a"/><rect x="890" y="331" width="1" height="1" fill="#26a69a"/><rect x="893" y="331" width="1" height="1" fill="#26a69a"/><rect x="896" y="331" width="1" height="1" fill="#26a69a"/><rect x="899" y="331" width="1" height="1" fill="#26a69a"/><rect x="902" y="331" width="1" height="1" fill="#26a69a"/><rect x="905" y="331" width="1" height="1" fill="#26a69a"/><rect x="908" y="331" width="1" height="1" fill="#26a69a"/><rect x="911" y="331" width="1" height="1" fill="#26a69a"/><rect x="914" y="331" width="1" height="1" fill="#26a69a"/><rect x="917" y="331" width="1" height="1" fill="#26a69a"/><rect x="920" y="331" width="1" height="1" fill="#26a69a"/><rect x="923" y="331" width="1" height="1" fill="#26a69a"/><rect x="926" y="331" width="1" height="1" fill="#26a69a"/><rect x="929" y="331" width="1" height="1" fill="#26a69a"/><rect x="932" y="331" width="1" height="1" fill="#26a69a"/><rect x="935" y="331" width="1" height="1" fill="#26a69a"/><rect x="938" y="331" width="1" height="1" fill="#26a69a"/><rect x="941" y="331" width="1" height="1" fill="#26a69a"/><rect x="944" y="331" width="1" height="1" fill="#26a69a"/><rect x="947" y="331" width="1" height="1" fill="#26a69a"/><rect x="950" y="331" width="1" height="1" fill="#26a69a"/><rect x="953" y="331" width="1" height="1" fill="#26a69a"/><rect x="956" y="331" width="1" height="1" fill="#26a69a"/><rect x="959" y="331" width="1" height="1" fill="#26a69a"/><rect x="962" y="331" width="1" height="1" fill="#26a69a"/><rect x="965" y="331" width="1" height="1" fill="#26a69a"/><rect x="968" y="331" width="1" height="1" fill="#26a69a"/><rect x="971" y="331" width="1" height="1" fill="#26a69a"/><rect x="974" y="331" width="1" height="1" fill="#26a69a"/><rect x="977" y="331" width="1" height="1" fill="#26a69a"/><rect x="980" y="331" width="1" height="1" fill="#26a69a"/><rect x="983" y="331" width="1" height="1" fill="#26a69a"/><rect x="986" y="331" width="1" height="1" fill="#26a69a"/><rect x="989" y="331" width="1" height="1" fill="#26a69a"/><rect x="992" y="331" width="1" height="1" fill="#26a69a"/><rect x="995" y="331" width="1" height="1" fill="#26a69a"/><rect x="998" y="331" width="1" height="1" fill="#26a69a"/><rect x="1001" y="331" width="1" height="1" fill="#26a69a"/><rect x="1004" y="331" width="1" height="1" fill="#26a69a"/><rect x="1007" y="331" width="1" height="1" fill="#26a69a"/><rect x="1010" y="331" width="1" height="1" fill="#26a69a"/><rect x="1013" y="331" width="1" height="1" fill="#26a69a"/><rect x="1016" y="331" width="1" height="1" fill="#26a69a"/><rect x="1019" y="331" width="1" height="1" fill="#26a69a"/><rect x="1022" y="331" width="1" height="1" fill="#26a69a"/><rect x="1025" y="331" width="1" height="1" fill="#26a69a"/><rect x="1028" y="331" width="1" height="1" fill="#26a69a"/><rect x="1031" y="331" width="1" height="1" fill="#26a69a"/><rect x="1034" y="331" width="1" height="1" fill="#26a69a"/><rect x="1037" y="331" width="1" height="1" fill="#26a69a"/><rect x="1040" y="331" width="1" height="1" fill="#26a69a"/><rect x="1043" y="331" width="1" height="1" fill="#26a69a"/><rect x="1046" y="331" width="1" height="1" fill="#26a69a"/><rect x="1049" y="331" width="1" height="1" fill="#26a69a"/><rect x="1052" y="331" width="1" height="1" fill="#26a69a"/><rect x="1055" y="331" width="1" height="1" fill="#26a69a"/><rect x="1058" y="331" width="1" height="1" fill="#26a69a"/><rect x="1061" y="331" width="1" height="1" fill="#26a69a"/><rect x="1064" y="331" width="1" height="1" fill="#26a69a"/><rect x="1067" y="331" width="1" height="1" fill="#26a69a"/><rect x="1070" y="331" width="1" height="1" fill="#26a69a"/><rect x="1073" y="331" width="1" height="1" fill="#26a69a"/><rect x="1076" y="331" width="1" height="1" fill="#26a69a"/><rect x="1079" y="331" width="1" height="1" fill="#26a69a"/><rect x="1082" y="331" width="1" height="1" fill="#26a69a"/><rect x="1085" y="331" width="1" height="1" fill="#26a69a"/><rect x="1088" y="331" width="1" height="1" fill="#26a69a"/><rect x="1091" y="331" width="1" height="1" fill="#26a69a"/><rect x="1094" y="331" width="1" height="1" fill="#26a69a"/><rect x="1097" y="331" width="1" height="1" fill="#26a69a"/><rect x="1100" y="331" width="1" height="1" fill="#26a69a"/><rect x="1103" y="331" width="1" height="1" fill="#26a69a"/><rect x="1106" y="331" width="1" height="1" fill="#26a69a"/><rect x="1109" y="331" width="1" height="1" fill="#26a69a"/><rect x="1112" y="331" width="1" height="1" fill="#26a69a"/><rect x="1115" y="331" width="1" height="1" fill="#26a69a"/><rect x="1118" y="331" width="1" height="1" fill="#26a69a"/><rect x="1121" y="331" width="1" height="1" fill="#26a69a"/><rect x="1124" y="331" width="1" height="1" fill="#26a69a"/><rect x="1127" y="331" width="1" height="1" fill="#26a69a"/><rect x="1130" y="331" width="1" height="1" fill="#26a69a"/><rect x="1133" y="331" width="1" height="1" fill="#26a69a"/><rect x="1136" y="331" width="1" height="1" fill="#26a69a"/><rect x="1139" y="331" width="1" height="1" fill="#26a69a"/><rect x="1142" y="331" width="1" height="1" fill="#26a69a"/><rect x="1145" y="331" width="1" height="1" fill="#26a69a"/><rect x="1148" y="331" width="1" height="1" fill="#26a69a"/><rect x="1151" y="331" width="1" height="1" fill="#26a69a"/><rect x="1154" y="331" width="1" height="1" fill="#26a69a"/><rect x="1157" y="331" width="1" height="1" fill="#26a69a"/><rect x="1160" y="331" width="1" height="1" fill="#26a69a"/><rect x="1163" y="331" width="1" height="1" fill="#26a69a"/><rect x="1166" y="331" width="1" height="1" fill="#26a69a"/><rect x="1169" y="331" width="1" height="1" fill="#26a69a"/><rect x="1172" y="331" width="1" height="1" fill="#26a69a"/><rect x="1175" y="331" width="1" height="1" fill="#26a69a"/><rect x="1178" y="331" width="1" height="1" fill="#26a69a"/><rect x="1181" y="331" width="1" height="1" fill="#26a69a"/><rect x="1184" y="331" width="1" height="1" fill="#26a69a"/><rect x="1187" y="331" width="1" height="1" fill="#26a69a"/><rect x="1190" y="331" width="1" height="1" fill="#26a69a"/><rect x="1193" y="331" width="1" height="1" fill="#26a69a"/><rect x="1196" y="331" width="1" height="1" fill="#26a69a"/><rect x="1199" y="331" width="1" height="1" fill="#26a69a"/><rect x="1202" y="331" width="1" height="1" fill="#26a69a"/>
<rect x="1" y="335" width="6" height="1" fill="#d3be2c"/><rect x="12" y="335" width="6" height="1" fill="#d3be2c"/><rect x="23" y="335" width="6" height="1" fill="#d3be2c"/><rect x="34" y="335" width="6" height="1" fill="#d3be2c"/><rect x="45" y="335" width="6" height="1" fill="#d3be2c"/><rect x="56" y="335" width="6" height="1" fill="#d3be2c"/><rect x="67" y="335" width="6" height="1" fill="#d3be2c"/><rect x="78" y="335" width="6" height="1" fill="#d3be2c"/><rect x="89" y="335" width="6" height="1" fill="#d3be2c"/><rect x="100" y="335" width="6" height="1" fill="#d3be2c"/><rect x="111" y="335" width="6" height="1" fill="#d3be2c"/><rect x="122" y="335" width="6" height="1" fill="#d3be2c"/><rect x="133" y="335" width="6" height="1" fill="#d3be2c"/><rect x="144" y="335" width="6" height="1" fill="#d3be2c"/><rect x="155" y="335" width="6" height="1" fill="#d3be2c"/><rect x="166" y="335" width="6" height="1" fill="#d3be2c"/><rect x="177" y="335" width="6" height="1" fill="#d3be2c"/><rect x="188" y="335" width="6" height="1" fill="#d3be2c"/><rect x="199" y="335" width="6" height="1" fill="#d3be2c"/><rect x="210" y="335" width="6" height="1" fill="#d3be2c"/><rect x="221" y="335" width="6" height="1" fill="#d3be2c"/><rect x="232" y="335" width="6" height="1" fill="#d3be2c"/><rect x="243" y="335" width="6" height="1" fill="#d3be2c"/><rect x="254" y="335" width="6" height="1" fill="#d3be2c"/><rect x="265" y="335" width="6" height="1" fill="#d3be2c"/><rect x="276" y="335" width="6" height="1" fill="#d3be2c"/><rect x="287" y="335" width="6" height="1" fill="#d3be2c"/><rect x="298" y="335" width="6" height="1" fill="#d3be2c"/><rect x="309" y="335" width="6" height="1" fill="#d3be2c"/><rect x="320" y="335" width="6" height="1" fill="#d3be2c"/><rect x="331" y="335" width="6" height="1" fill="#d3be2c"/><rect x="342" y="335" width="6" height="1" fill="#d3be2c"/><rect x="353" y="335" width="6" height="1" fill="#d3be2c"/><rect x="364" y="335" width="6" height="1" fill="#d3be2c"/><rect x="375" y="335" width="6" height="1" fill="#d3be2c"/><rect x="386" y="335" width="6" height="1" fill="#d3be2c"/><rect x="397" y="335" width="6" height="1" fill="#d3be2c"/><rect x="408" y="335" width="6" height="1" fill="#d3be2c"/><rect x="419" y="335" width="6" height="1" fill="#d3be2c"/><rect x="430" y="335" width="6" height="1" fill="#d3be2c"/><rect x="441" y="335" width="6" height="1" fill="#d3be2c"/><rect x="452" y="335" width="6" height="1" fill="#d3be2c"/><rect x="463" y="335" width="6" height="1" fill="#d3be2c"/><rect x="474" y="335" width="6" height="1" fill="#d3be2c"/><rect x="485" y="335" width="6" height="1" fill="#d3be2c"/><rect x="496" y="335" width="6" height="1" fill="#d3be2c"/><rect x="507" y="335" width="6" height="1" fill="#d3be2c"/><rect x="518" y="335" width="6" height="1" fill="#d3be2c"/><rect x="529" y="335" width="6" height="1" fill="#d3be2c"/><rect x="540" y="335" width="6" height="1" fill="#d3be2c"/><rect x="551" y="335" width="6" height="1" fill="#d3be2c"/><rect x="562" y="335" width="6" height="1" fill="#d3be2c"/><rect x="573" y="335" width="6" height="1" fill="#d3be2c"/><rect x="584" y="335" width="6" height="1" fill="#d3be2c"/><rect x="595" y="335" width="6" height="1" fill="#d3be2c"/><rect x="606" y="335" width="6" height="1" fill="#d3be2c"/><rect x="617" y="335" width="6" height="1" fill="#d3be2c"/><rect x="628" y="335" width="6" height="1" fill="#d3be2c"/><rect x="639" y="335" width="6" height="1" fill="#d3be2c"/><rect x="650" y="335" width="6" height="1" fill="#d3be2c"/><rect x="661" y="335" width="6" height="1" fill="#d3be2c"/><rect x="672" y="335" width="6" height="1" fill="#d3be2c"/><rect x="683" y="335" width="6" height="1" fill="#d3be2c"/><rect x="694" y="335" width="6" height="1" fill="#d3be2c"/><rect x="705" y="335" width="6" height="1" fill="#d3be2c"/><rect x="716" y="335" width="6" height="1" fill="#d3be2c"/><rect x="727" y="335" width="6" height="1" fill="#d3be2c"/><rect x="738" y="335" width="6" height="1" fill="#d3be2c"/><rect x="749" y="335" width="6" height="1" fill="#d3be2c"/><rect x="760" y="335" width="6" height="1" fill="#d3be2c"/><rect x="771" y="335" width="6" height="1" fill="#d3be2c"/><rect x="782" y="335" width="6" height="1" fill="#d3be2c"/><rect x="793" y="335" width="6" height="1" fill="#d3be2c"/><rect x="804" y="335" width="6" height="1" fill="#d3be2c"/><rect x="815" y="335" width="6" height="1" fill="#d3be2c"/><rect x="826" y="335" width="6" height="1" fill="#d3be2c"/><rect x="837" y="335" width="6" height="1" fill="#d3be2c"/><rect x="848" y="335" width="6" height="1" fill="#d3be2c"/><rect x="859" y="335" width="6" height="1" fill="#d3be2c"/><rect x="870" y="335" width="6" height="1" fill="#d3be2c"/><rect x="881" y="335" width="6" height="1" fill="#d3be2c"/><rect x="892" y="335" width="6" height="1" fill="#d3be2c"/><rect x="903" y="335" width="6" height="1" fill="#d3be2c"/><rect x="914" y="335" width="6" height="1" fill="#d3be2c"/><rect x="925" y="335" width="6" height="1" fill="#d3be2c"/><rect x="936" y="335" width="6" height="1" fill="#d3be2c"/><rect x="947" y="335" width="6" height="1" fill="#d3be2c"/><rect x="958" y="335" width="6" height="1" fill="#d3be2c"/><rect x="969" y="335" width="6" height="1" fill="#d3be2c"/><rect x="980" y="335" width="6" height="1" fill="#d3be2c"/><rect x="991" y="335" width="6" height="1" fill="#d3be2c"/><rect x="1002" y="335" width="6" height="1" fill="#d3be2c"/><rect x="1013" y="335" width="6" height="1" fill="#d3be2c"/><rect x="1024" y="335" width="6" height="1" fill="#d3be2c"/><rect x="1035" y="335" width="6" height="1" fill="#d3be2c"/><rect x="1046" y="335" width="6" height="1" fill="#d3be2c"/><rect x="1057" y="335" width="6" height="1" fill="#d3be2c"/><rect x="1068" y="335" width="6" height="1" fill="#d3be2c"/><rect x="1079" y="335" width="6" height="1" fill="#d3be2c"/><rect x="1090" y="335" width="6" height="1" fill="#d3be2c"/><rect x="1101" y="335" width="6" height="1" fill="#d3be2c"/><rect x="1112" y="335" width="6" height="1" fill="#d3be2c"/><rect x="1123" y="335" width="6" height="1" fill="#d3be2c"/><rect x="1134" y="335" width="6" height="1" fill="#d3be2c"/><rect x="1145" y="335" width="6" height="1" fill="#d3be2c"/><rect x="1156" y="335" width="6" height="1" fill="#d3be2c"/><rect x="1167" y="335" width="6" height="1" fill="#d3be2c"/><rect x="1178" y="335" width="6" height="1" fill="#d3be2c"/><rect x="1189" y="335" width="6" height="1" fill="#d3be2c"/><rect x="1200" y="335" width="4" height="1" fill="#d3be2c"/>
<rect x="3" y="174" width="1" height="6" fill="#26a69a"/>
<rect x="2" y="175" width="3" height="2" fill="#26a69a"/>
<rect x="6" y="176" width="1" height="7" fill="#ef5350"/>
<rect x="5" y="176" width="3" height="3" fill="#ef5350"/>
<rect x="9" y="177" width="1" height="10" fill="#ef5350"/>
<rect x="8" y="179" width="3" height="7" fill="#ef5350"/>
<rect x="12" y="181" width="1" height="5" fill="#26a69a"/>
<rect x="11" y="183" width="3" height="3" fill="#26a69a"/>
<rect x="14" y="173" width="1" height="11" fill="#26a69a"/>
<rect x="13" y="177" width="3" height="7" fill="#26a69a"/>
<rect x="17" y="175" width="1" height="7" fill="#ef5350"/>
<rect x="16" y="175" width="3" height="7" fill="#ef5350"/>
<rect x="20" y="177" width="1" height="6" fill="#26a69a"/>
<rect x="19" y="177" width="3" height="6" fill="#26a69a"/>
<rect x="23" y="175" width="1" height="5" fill="#ef5350"/>
<rect x="22" y="176" width="3" height="4" fill="#ef5350"/>
<rect x="26" y="176" width="1" height="10" fill="#ef5350"/>
<rect x="25" y="177" width="3" height="3" fill="#ef5350"/>
<rect x="29" y="172" width="1" height="7" fill="#26a69a"/>
<rect x="28" y="174" width="3" height="5" fill="#26a69a"/>
<rect x="32" y="166" width="1" height="8" fill="#26a69a"/>
<rect x="31" y="166" width="3" height="8" fill="#26a69a"/>
<rect x="35" y="162" width="1" height="12" fill="#ef5350"/>
<rect x="34" y="166" width="3" height="7" fill="#ef5350"/>
<rect x="38" y="168" width="1" height="6" fill="#ef5350"/>
<rect x="37" y="170" width="3" height="4" fill="#ef5350"/>
<rect x="41" y="170" width="1" height="14" fill="#ef5350"/>
<rect x="40" y="174" width="3" height="10" fill="#ef5350"/>
<rect x="44" y="179" width="1" height="12" fill="#ef5350"/>
<rect x="43" y="183" width="3" height="6" fill="#ef5350"/>
<rect x="47" y="186" width="1" height="15" fill="#ef5350"/>
<rect x="46" y="189" width="3" height="7" fill="#ef5350"/>
<rect x="49" y="185" width="1" height="12" fill="#26a69a"/>
<rect x="48" y="191" width="3" height="5" fill="#26a69a"/>
<rect x="52" y="188" width="1" height="9" fill="#ef5350"/>
<rect x="51" y="191" width="3" height="6" fill="#ef5350"/>
<rect x="55" y="190" width="1" height="8" fill="#ef5350"/>
<rect x="54" y="195" width="3" height="3" fill="#ef5350"/>
<rect x="58" y="198" width="1" height="22" fill="#ef5350"/>
<rect x="57" y="198" width="3" height="16" fill="#ef5350"/>
<rect x="61" y="203" width="1" height="15" fill="#26a69a"/>
<rect x="60" y="208" width="3" height="5" fill="#26a69a"/>
<rect x="64" y="197" width="1" height="13" fill="#26a69a"/>
<rect x="63" y="203" width="3" height="7" fill="#26a69a"/>
<rect x="67" y="193" width="1" height="12" fill="#26a69a"/>
<rect x="66" y="196" width="3" height="7" fill="#26a69a"/>
<rect x="70" y="194" width="1" height="11" fill="#ef5350"/>
<rect x="69" y="196" width="3" height="8" fill="#ef5350"/>
<rect x="73" y="198" width="1" height="10" fill="#ef5350"/>
<rect x="72" y="204" width="3" height="3" fill="#ef5350"/>
<rect x="76" y="204" width="1" height="6" fill="#26a69a"/>
<rect x="75" y="204" width="3" height="2" fill="#26a69a"/>
<rect x="79" y="200" width="1" height="9" fill="#26a69a"/>
<rect x="78" y="200" width="3" height="7" fill="#26a69a"/>
<rect x="82" y="198" width="1" height="11" fill="#ef5350"/>
<rect x="81" y="199" width="3" height="7" fill="#ef5350"/>
<rect x="85" y="202" width="1" height="6" fill="#26a69a"/>
<rect x="84" y="206" width="3" height="2" fill="#26a69a"/>
<rect x="88" y="198" width="1" height="8" fill="#26a69a"/>
<rect x="87" y="198" width="3" height="8" fill="#26a69a"/>
<rect x="90" y="193" width="1" height="7" fill="#26a69a"/>
<rect x="89" y="194" width="3" height="6" fill="#26a69a"/>
<rect x="93" y="189" width="1" height="9" fill="#ef5350"/>
<rect x="92" y="193" width="3" height="3" fill="#ef5350"/>
<rect x="96" y="191" width="1" height="10" fill="#ef5350"/>
<rect x="95" y="195" width="3" height="5" fill="#ef5350"/>
<rect x="99" y="188" width="1" height="13" fill="#26a69a"/>
<rect x="98" y="188" width="3" height="11" fill="#26a69a"/>
<rect x="102" y="186" width="1" height="4" fill="#26a69a"/>
<rect x="101" y="187" width="3" height="3" fill="#26a69a"/>
<rect x="105" y="187" width="1" height="8" fill="#ef5350"/>
<rect x="104" y="187" width="3" height="5" fill="#ef5350"/>
<rect x="108" y="177" width="1" height="20" fill="#26a69a"/>
<rect x="107" y="180" width="3" height="11" fill="#26a69a"/>
<rect x="111" y="166" width="1" height="17" fill="#26a69a"/>
<rect x="110" y="166" width="3" height="12" fill="#26a69a"/>
<rect x="114" y="163" width="1" height="19" fill="#ef5350"/>
<rect x="113" y="167" width="3" height="15" fill="#ef5350"/>
<rect x="117" y="181" width="1" height="9" fill="#ef5350"/>
<rect x="116" y="181" width="3" height="6" fill="#ef5350"/>
<rect x="120" y="180" width="1" height="12" fill="#ef5350"/>
<rect x="119" y="186" width="3" height="6" fill="#ef5350"/>
<rect x="123" y="188" width="1" height="37" fill="#ef5350"/>
<rect x="122" y="192" width="3" height="27" fill="#ef5350"/>
<rect x="125" y="197" width="1" height="25" fill="#26a69a"/>
<rect x="124" y="204" width="3" height="15" fill="#26a69a"/>
<rect x="128" y="198" width="1" height="12" fill="#26a69a"/>
<rect x="127" y="201" width="3" height="8" fill="#26a69a"/>
<rect x="131" y="201" width="1" height="7" fill="#26a69a"/>
<rect x="130" y="201" width="3" height="2" fill="#26a69a"/>
<rect x="134" y="202" width="1" height="8" fill="#26a69a"/>
<rect x="133" y="203" width="3" height="2" fill="#26a69a"/>
<rect x="137" y="205" width="1" height="12" fill="#ef5350"/>
<rect x="136" y="205" width="3" height="8" fill="#ef5350"/>
<rect x="140" y="202" width="1" height="16" fill="#26a69a"/>
<rect x="139" y="202" width="3" height="13" fill="#26a69a"/>
<rect x="143" y="200" width="1" height="7" fill="#ef5350"/>
<rect x="142" y="202" width="3" height="5" fill="#ef5350"/>
<rect x="146" y="200" width="1" height="4" fill="#26a69a"/>
<rect x="145" y="200" width="3" height="4" fill="#26a69a"/>
<rect x="149" y="194" width="1" height="6" fill="#26a69a"/>
<rect x="148" y="197" width="3" height="3" fill="#26a69a"/>
<rect x="152" y="194" width="1" height="6" fill="#ef5350"/>
<rect x="151" y="196" width="3" height="3" fill="#ef5350"/>
<rect x="155" y="199" width="1" height="4" fill="#ef5350"/>
<rect x="154" y="199" width="3" height="2" fill="#ef5350"/>
<rect x="158" y="196" width="1" height="7" fill="#26a69a"/>
<rect x="157" y="196" width="3" height="6" fill="#26a69a"/>
<rect x="160" y="194" width="1" height="5" fill="#ef5350"/>
<rect x="159" y="196" width="3" height="2" fill="#ef5350"/>
<rect x="163" y="191" width="1" height="9" fill="#26a69a"/>
<rect x="162" y="192" width="3" height="6" fill="#26a69a"/>
<rect x="166" y="181" width="1" height="11" fill="#26a69a"/>
<rect x="165" y="184" width="3" height="7" fill="#26a69a"/>
<rect x="169" y="178" width="1" height="12" fill="#ef5350"/>
<rect x="168" y="183" width="3" height="1" fill="#ef5350"/>
<rect x="172" y="185" width="1" height="19" fill="#ef5350"/>
<rect x="171" y="185" width="3" height="17" fill="#ef5350"/>
<rect x="175" y="200" width="1" height="13" fill="#ef5350"/>
<rect x="174" y="200" width="3" height="4" fill="#ef5350"/>
<rect x="178" y="197" width="1" height="9" fill="#26a69a"/>
<rect x="177" y="198" width="3" height="6" fill="#26a69a"/>
<rect x="181" y="185" width="1" height="13" fill="#26a69a"/>
<rect x="180" y="188" width="3" height="10" fill="#26a69a"/>
<rect x="184" y="184" width="1" height="11" fill="#ef5350"/>
<rect x="183" y="186" width="3" height="5" fill="#ef5350"/>
<rect x="187" y="190" width="1" height="10" fill="#ef5350"/>
<rect x="186" y="190" width="3" height="10" fill="#ef5350"/>
<rect x="190" y="196" width="1" height="14" fill="#ef5350"/>
<rect x="189" y="200" width="3" height="10" fill="#ef5350"/>
<rect x="193" y="203" width="1" height="20" fill="#ef5350"/>
<rect x="192" y="210" width="3" height="2" fill="#ef5350"/>
<rect x="196" y="208" width="1" height="62" fill="#ef5350"/>
<rect x="195" y="212" width="3" height="40" fill="#ef5350"/>
<rect x="198" y="252" width="1" height="32" fill="#ef5350"/>
<rect x="197" y="252" width="3" height="22" fill="#ef5350"/>
<rect x="201" y="263" width="1" height="21" fill="#ef5350"/>
<rect x="200" y="274" width="3" height="10" fill="#ef5350"/>
<rect x="204" y="280" width="1" height="40" fill="#ef5350"/>
<rect x="203" y="284" width="3" height="7" fill="#ef5350"/>
<rect x="207" y="283" width="1" height="13" fill="#26a69a"/>
<rect x="206" y="288" width="3" height="3" fill="#26a69a"/>
<rect x="210" y="281" width="1" height="15" fill="#26a69a"/>
<rect x="209" y="283" width="3" height="8" fill="#26a69a"/>
<rect x="213" y="280" width="1" height="14" fill="#ef5350"/>
<rect x="212" y="284" width="3" height="3" fill="#ef5350"/>
<rect x="216" y="285" width="1" height="15" fill="#ef5350"/>
<rect x="215" y="288" width="3" height="9" fill="#ef5350"/>
<rect x="219" y="294" width="1" height="16" fill="#ef5350"/>
<rect x="218" y="296" width="3" height="14" fill="#ef5350"/>
<rect x="222" y="301" width="1" height="15" fill="#26a69a"/>
<rect x="221" y="301" width="3" height="7" fill="#26a69a"/>
<rect x="225" y="298" width="1" height="10" fill="#26a69a"/>
<rect x="224" y="300" width="3" height="4" fill="#26a69a"/>
<rect x="228" y="297" width="1" height="10" fill="#26a69a"/>
<rect x="227" y="301" width="3" height="4" fill="#26a69a"/>
<rect x="231" y="295" width="1" height="9" fill="#26a69a"/>
<rect x="230" y="296" width="3" height="8" fill="#26a69a"/>
<rect x="234" y="296" width="1" height="11" fill="#ef5350"/>
<rect x="233" y="296" width="3" height="7" fill="#ef5350"/>
<rect x="236" y="302" width="1" height="20" fill="#ef5350"/>
<rect x="235" y="302" width="3" height="17" fill="#ef5350"/>
<rect x="239" y="305" width="1" height="12" fill="#26a69a"/>
<rect x="238" y="308" width="3" height="9" fill="#26a69a"/>
<rect x="242" y="306" width="1" height="8" fill="#ef5350"/>
<rect x="241" y="306" width="3" height="3" fill="#ef5350"/>
<rect x="245" y="302" width="1" height="14" fill="#26a69a"/>
<rect x="244" y="302" width="3" height="7" fill="#26a69a"/>
<rect x="248" y="298" width="1" height="5" fill="#26a69a"/>
<rect x="247" y="298" width="3" height="5" fill="#26a69a"/>
<rect x="251" y="297" width="1" height="14" fill="#ef5350"/>
<rect x="250" y="298" width="3" height="13" fill="#ef5350"/>
<rect x="254" y="304" width="1" height="11" fill="#26a69a"/>
<rect x="253" y="304" width="3" height="6" fill="#26a69a"/>
<rect x="257" y="301" width="1" height="11" fill="#ef5350"/>
<rect x="256" y="305" width="3" height="3" fill="#ef5350"/>
<rect x="260" y="299" width="1" height="9" fill="#26a69a"/>
<rect x="259" y="302" width="3" height="6" fill="#26a69a"/>
<rect x="263" y="281" width="1" height="27" fill="#26a69a"/>
<rect x="262" y="294" width="3" height="11" fill="#26a69a"/>
<rect x="266" y="288" width="1" height="8" fill="#26a69a"/>
<rect x="265" y="290" width="3" height="3" fill="#26a69a"/>
<rect x="269" y="286" width="1" height="15" fill="#ef5350"/>
<rect x="268" y="290" width="3" height="9" fill="#ef5350"/>
<rect x="271" y="298" width="1" height="2" fill="#ef5350"/>
<rect x="270" y="298" width="3" height="2" fill="#ef5350"/>
<rect x="274" y="295" width="1" height="9" fill="#26a69a"/>
<rect x="273" y="298" width="3" height="1" fill="#26a69a"/>
<rect x="277" y="298" width="1" height="3" fill="#ef5350"/>
<rect x="276" y="298" width="3" height="3" fill="#ef5350"/>
<rect x="280" y="300" width="1" height="13" fill="#ef5350"/>
<rect x="279" y="300" width="3" height="13" fill="#ef5350"/>
<rect x="283" y="303" width="1" height="8" fill="#26a69a"/>
<rect x="282" y="303" width="3" height="8" fill="#26a69a"/>
<rect x="286" y="303" width="1" height="7" fill="#ef5350"/>
<rect x="285" y="303" width="3" height="7" fill="#ef5350"/>
<rect x="289" y="310" width="1" height="38" fill="#ef5350"/>
<rect x="288" y="310" width="3" height="32" fill="#ef5350"/>
<rect x="292" y="338" width="1" height="28" fill="#ef5350"/>
<rect x="291" y="342" width="3" height="4" fill="#ef5350"/>
<rect x="295" y="337" width="1" height="12" fill="#26a69a"/>
<rect x="294" y="340" width="3" height="4" fill="#26a69a"/>
<rect x="298" y="341" width="1" height="12" fill="#ef5350"/>
<rect x="297" y="341" width="3" height="10" fill="#ef5350"/>
<rect x="301" y="344" width="1" height="15" fill="#26a69a"/>
<rect x="300" y="344" width="3" height="7" fill="#26a69a"/>
<rect x="304" y="315" width="1" height="31" fill="#26a69a"/>
<rect x="303" y="332" width="3" height="14" fill="#26a69a"/>
<rect x="307" y="317" width="1" height="15" fill="#26a69a"/>
<rect x="306" y="321" width="3" height="11" fill="#26a69a"/>
<rect x="309" y="323" width="1" height="6" fill="#ef5350"/>
<rect x="308" y="323" width="3" height="6" fill="#ef5350"/>
<rect x="312" y="325" width="1" height="5" fill="#26a69a"/>
<rect x="311" y="328" width="3" height="2" fill="#26a69a"/>
<rect x="315" y="320" width="1" height="7" fill="#26a69a"/>
<rect x="314" y="323" width="3" height="4" fill="#26a69a"/>
<rect x="318" y="313" width="1" height="46" fill="#ef5350"/>
<rect x="317" y="321" width="3" height="31" fill="#ef5350"/>
<rect x="321" y="332" width="1" height="22" fill="#26a69a"/>
<rect x="320" y="338" width="3" height="12" fill="#26a69a"/>
<rect x="324" y="340" width="1" height="37" fill="#ef5350"/>
<rect x="323" y="340" width="3" height="18" fill="#ef5350"/>
<rect x="327" y="326" width="1" height="44" fill="#26a69a"/>
<rect x="326" y="330" width="3" height="25" fill="#26a69a"/>
<rect x="330" y="330" width="1" height="12" fill="#ef5350"/>
<rect x="329" y="330" width="3" height="6" fill="#ef5350"/>
<rect x="333" y="336" width="1" height="13" fill="#ef5350"/>
<rect x="332" y="336" width="3" height="11" fill="#ef5350"/>
<rect x="336" y="337" width="1" height="14" fill="#26a69a"/>
<rect x="335" y="342" width="3" height="2" fill="#26a69a"/>
<rect x="339" y="334" width="1" height="14" fill="#26a69a"/>
<rect x="338" y="337" width="3" height="3" fill="#26a69a"/>
<rect x="342" y="335" width="1" height="5" fill="#ef5350"/>
<rect x="341" y="337" width="3" height="2" fill="#ef5350"/>
<rect x="345" y="339" width="1" height="15" fill="#ef5350"/>
<rect x="344" y="339" width="3" height="12" fill="#ef5350"/>
<rect x="347" y="349" width="1" height="6" fill="#26a69a"/>
<rect x="346" y="349" width="3" height="1" fill="#26a69a"/>
<rect x="350" y="332" width="1" height="18" fill="#26a69a"/>
<rect x="349" y="336" width="3" height="14" fill="#26a69a"/>
<rect x="353" y="329" width="1" height="10" fill="#ef5350"/>
<rect x="352" y="336" width="3" height="3" fill="#ef5350"/>
<rect x="356" y="338" width="1" height="6" fill="#ef5350"/>
<rect x="355" y="338" width="3" height="2" fill="#ef5350"/>
<rect x="359" y="339" width="1" height="6" fill="#ef5350"/>
<rect x="358" y="339" width="3" height="3" fill="#ef5350"/>
<rect x="362" y="338" width="1" height="4" fill="#26a69a"/>
<rect x="361" y="338" width="3" height="4" fill="#26a69a"/>
<rect x="365" y="336" width="1" height="3" fill="#26a69a"/>
<rect x="364" y="336" width="3" height="3" fill="#26a69a"/>
<rect x="368" y="336" width="1" height="7" fill="#ef5350"/>
<rect x="367" y="336" width="3" height="2" fill="#ef5350"/>
<rect x="371" y="337" width="1" height="2" fill="#ef5350"/>
<rect x="370" y="337" width="3" height="2" fill="#ef5350"/>
<rect x="374" y="330" width="1" height="7" fill="#ef5350"/>
<rect x="373" y="335" width="3" height="2" fill="#ef5350"/>
<rect x="377" y="330" width="1" height="5" fill="#26a69a"/>
<rect x="376" y="330" width="3" height="5" fill="#26a69a"/>
<rect x="380" y="330" width="1" height="12" fill="#ef5350"/>
<rect x="379" y="330" width="3" height="8" fill="#ef5350"/>
<rect x="382" y="336" width="1" height="7" fill="#26a69a"/>
<rect x="381" y="337" width="3" height="2" fill="#26a69a"/>
<rect x="385" y="335" width="1" height="7" fill="#ef5350"/>
<rect x="384" y="337" width="3" height="3" fill="#ef5350"/>
<rect x="388" y="336" width="1" height="10" fill="#26a69a"/>
<rect x="387" y="338" width="3" height="2" fill="#26a69a"/>
<rect x="391" y="336" width="1" height="8" fill="#ef5350"/>
<rect x="390" y="337" width="3" height="7" fill="#ef5350"/>
<rect x="394" y="343" width="1" height="9" fill="#ef5350"/>
<rect x="393" y="343" width="3" height="5" fill="#ef5350"/>
<rect x="397" y="344" width="1" height="14" fill="#ef5350"/>
<rect x="396" y="347" width="3" height="11" fill="#ef5350"/>
<rect x="400" y="355" width="1" height="19" fill="#ef5350"/>
<rect x="399" y="355" width="3" height="19" fill="#ef5350"/>
<rect x="403" y="358" width="1" height="24" fill="#ef5350"/>
<rect x="402" y="370" width="3" height="8" fill="#ef5350"/>
<rect x="406" y="365" width="1" height="17" fill="#26a69a"/>
<rect x="405" y="373" width="3" height="4" fill="#26a69a"/>
<rect x="409" y="362" width="1" height="14" fill="#26a69a"/>
<rect x="408" y="366" width="3" height="4" fill="#26a69a"/>
<rect x="412" y="334" width="1" height="34" fill="#26a69a"/>
<rect x="411" y="341" width="3" height="27" fill="#26a69a"/>
<rect x="415" y="326" width="1" height="17" fill="#26a69a"/>
<rect x="414" y="337" width="3" height="6" fill="#26a69a"/>
<rect x="418" y="337" width="1" height="8" fill="#ef5350"/>
<rect x="417" y="338" width="3" height="7" fill="#ef5350"/>
<rect x="420" y="340" width="1" height="14" fill="#26a69a"/>
<rect x="419" y="342" width="3" height="3" fill="#26a69a"/>
<rect x="423" y="339" width="1" height="9" fill="#ef5350"/>
<rect x="422" y="342" width="3" height="2" fill="#ef5350"/>
<rect x="426" y="330" width="1" height="10" fill="#26a69a"/>
<rect x="425" y="330" width="3" height="10" fill="#26a69a"/>
<rect x="429" y="334" width="1" height="6" fill="#ef5350"/>
<rect x="428" y="334" width="3" height="6" fill="#ef5350"/>
<rect x="432" y="334" width="1" height="6" fill="#26a69a"/>
<rect x="431" y="334" width="3" height="6" fill="#26a69a"/>
<rect x="435" y="335" width="1" height="9" fill="#ef5350"/>
<rect x="434" y="335" width="3" height="9" fill="#ef5350"/>
<rect x="438" y="339" width="1" height="5" fill="#26a69a"/>
<rect x="437" y="339" width="3" height="4" fill="#26a69a"/>
<rect x="441" y="339" width="1" height="3" fill="#ef5350"/>
<rect x="440" y="339" width="3" height="3" fill="#ef5350"/>
<rect x="444" y="340" width="1" height="7" fill="#ef5350"/>
<rect x="443" y="340" width="3" height="7" fill="#ef5350"/>
<rect x="447" y="343" width="1" height="8" fill="#ef5350"/>
<rect x="446" y="343" width="3" height="8" fill="#ef5350"/>
<rect x="450" y="346" width="1" height="8" fill="#26a69a"/>
<rect x="449" y="346" width="3" height="5" fill="#26a69a"/>
<rect x="453" y="337" width="1" height="9" fill="#26a69a"/>
<rect x="452" y="340" width="3" height="6" fill="#26a69a"/>
<rect x="455" y="338" width="1" height="6" fill="#ef5350"/>
<rect x="454" y="338" width="3" height="6" fill="#ef5350"/>
<rect x="458" y="339" width="1" height="13" fill="#ef5350"/>
<rect x="457" y="343" width="3" height="9" fill="#ef5350"/>
<rect x="461" y="344" width="1" height="7" fill="#26a69a"/>
<rect x="460" y="348" width="3" height="2" fill="#26a69a"/>
<rect x="464" y="346" width="1" height="15" fill="#26a69a"/>
<rect x="463" y="347" width="3" height="2" fill="#26a69a"/>
<rect x="467" y="331" width="1" height="19" fill="#26a69a"/>
<rect x="466" y="331" width="3" height="17" fill="#26a69a"/>
<rect x="470" y="329" width="1" height="9" fill="#ef5350"/>
<rect x="469" y="331" width="3" height="3" fill="#ef5350"/>
<rect x="473" y="327" width="1" height="10" fill="#ef5350"/>
<rect x="472" y="333" width="3" height="4" fill="#ef5350"/>
<rect x="476" y="313" width="1" height="24" fill="#26a69a"/>
<rect x="475" y="313" width="3" height="24" fill="#26a69a"/>
<rect x="479" y="310" width="1" height="12" fill="#ef5350"/>
<rect x="478" y="313" width="3" height="9" fill="#ef5350"/>
<rect x="482" y="319" width="1" height="7" fill="#ef5350"/>
<rect x="481" y="322" width="3" height="4" fill="#ef5350"/>
<rect x="485" y="320" width="1" height="11" fill="#ef5350"/>
<rect x="484" y="326" width="3" height="4" fill="#ef5350"/>
<rect x="488" y="326" width="1" height="16" fill="#ef5350"/>
<rect x="487" y="328" width="3" height="12" fill="#ef5350"/>
<rect x="491" y="335" width="1" height="12" fill="#ef5350"/>
<rect x="490" y="340" width="3" height="7" fill="#ef5350"/>
<rect x="494" y="342" width="1" height="6" fill="#26a69a"/>
<rect x="493" y="342" width="3" height="6" fill="#26a69a"/>
<rect x="496" y="337" width="1" height="7" fill="#26a69a"/>
<rect x="495" y="337" width="3" height="5" fill="#26a69a"/>
<rect x="499" y="336" width="1" height="4" fill="#26a69a"/>
<rect x="498" y="336" width="3" height="2" fill="#26a69a"/>
<rect x="502" y="327" width="1" height="9" fill="#26a69a"/>
<rect x="501" y="328" width="3" height="8" fill="#26a69a"/>
<rect x="505" y="328" width="1" height="8" fill="#ef5350"/>
<rect x="504" y="328" width="3" height="8" fill="#ef5350"/>
<rect x="508" y="336" width="1" height="4" fill="#ef5350"/>
<rect x="507" y="336" width="3" height="2" fill="#ef5350"/>
<rect x="511" y="330" width="1" height="8" fill="#ef5350"/>
<rect x="510" y="333" width="3" height="3" fill="#ef5350"/>
<rect x="514" y="334" width="1" height="10" fill="#ef5350"/>
<rect x="513" y="334" width="3" height="8" fill="#ef5350"/>
<rect x="517" y="338" width="1" height="6" fill="#ef5350"/>
<rect x="516" y="341" width="3" height="1" fill="#ef5350"/>
<rect x="520" y="336" width="1" height="7" fill="#ef5350"/>
<rect x="519" y="341" width="3" height="2" fill="#ef5350"/>
<rect x="523" y="342" width="1" height="9" fill="#ef5350"/>
<rect x="522" y="342" width="3" height="9" fill="#ef5350"/>
<rect x="526" y="348" width="1" height="21" fill="#ef5350"/>
<rect x="525" y="349" width="3" height="20" fill="#ef5350"/>
<rect x="529" y="366" width="1" height="9" fill="#ef5350"/>
<rect x="528" y="366" width="3" height="9" fill="#ef5350"/>
<rect x="531" y="357" width="1" height="52" fill="#26a69a"/>
<rect x="530" y="372" width="3" height="2" fill="#26a69a"/>
<rect x="534" y="361" width="1" height="19" fill="#26a69a"/>
<rect x="533" y="367" width="3" height="6" fill="#26a69a"/>
<rect x="537" y="337" width="1" height="34" fill="#26a69a"/>
<rect x="536" y="338" width="3" height="31" fill="#26a69a"/>
<rect x="540" y="331" width="1" height="48" fill="#ef5350"/>
<rect x="539" y="338" width="3" height="24" fill="#ef5350"/>
<rect x="543" y="344" width="1" height="18" fill="#26a69a"/>
<rect x="542" y="346" width="3" height="16" fill="#26a69a"/>
<rect x="546" y="345" width="1" height="13" fill="#ef5350"/>
<rect x="545" y="348" width="3" height="10" fill="#ef5350"/>
<rect x="549" y="344" width="1" height="17" fill="#26a69a"/>
<rect x="548" y="344" width="3" height="9" fill="#26a69a"/>
<rect x="552" y="335" width="1" height="13" fill="#ef5350"/>
<rect x="551" y="343" width="3" height="3" fill="#ef5350"/>
<rect x="555" y="340" width="1" height="9" fill="#ef5350"/>
<rect x="554" y="341" width="3" height="8" fill="#ef5350"/>
<rect x="558" y="339" width="1" height="12" fill="#26a69a"/>
<rect x="557" y="341" width="3" height="7" fill="#26a69a"/>
<rect x="561" y="340" width="1" height="8" fill="#ef5350"/>
<rect x="560" y="340" width="3" height="8" fill="#ef5350"/>
<rect x="564" y="336" width="1" height="12" fill="#26a69a"/>
<rect x="563" y="338" width="3" height="10" fill="#26a69a"/>
<rect x="566" y="324" width="1" height="14" fill="#26a69a"/>
<rect x="565" y="325" width="3" height="13" fill="#26a69a"/>
<rect x="569" y="326" width="1" height="6" fill="#26a69a"/>
<rect x="568" y="327" width="3" height="3" fill="#26a69a"/>
<rect x="572" y="326" width="1" height="2" fill="#26a69a"/>
<rect x="571" y="326" width="3" height="2" fill="#26a69a"/>
<rect x="575" y="326" width="1" height="9" fill="#ef5350"/>
<rect x="574" y="326" width="3" height="6" fill="#ef5350"/>
<rect x="578" y="329" width="1" height="6" fill="#ef5350"/>
<rect x="577" y="331" width="3" height="2" fill="#ef5350"/>
<rect x="581" y="327" width="1" height="5" fill="#26a69a"/>
<rect x="580" y="328" width="3" height="4" fill="#26a69a"/>
<rect x="584" y="317" width="1" height="21" fill="#ef5350"/>
<rect x="583" y="328" width="3" height="8" fill="#ef5350"/>
<rect x="587" y="331" width="1" height="9" fill="#26a69a"/>
<rect x="586" y="334" width="3" height="2" fill="#26a69a"/>
<rect x="590" y="333" width="1" height="15" fill="#ef5350"/>
<rect x="589" y="335" width="3" height="13" fill="#ef5350"/>
<rect x="593" y="337" width="1" height="11" fill="#26a69a"/>
<rect x="592" y="338" width="3" height="10" fill="#26a69a"/>
<rect x="596" y="338" width="1" height="7" fill="#ef5350"/>
<rect x="595" y="341" width="3" height="1" fill="#ef5350"/>
<rect x="599" y="339" width="1" height="9" fill="#ef5350"/>
<rect x="598" y="341" width="3" height="4" fill="#ef5350"/>
<rect x="602" y="342" width="1" height="16" fill="#ef5350"/>
<rect x="601" y="345" width="3" height="3" fill="#ef5350"/>
<rect x="604" y="329" width="1" height="24" fill="#26a69a"/>
<rect x="603" y="343" width="3" height="5" fill="#26a69a"/>
<rect x="607" y="306" width="1" height="37" fill="#26a69a"/>
<rect x="606" y="313" width="3" height="30" fill="#26a69a"/>
<rect x="610" y="302" width="1" height="24" fill="#ef5350"/>
<rect x="609" y="313" width="3" height="6" fill="#ef5350"/>
<rect x="613" y="306" width="1" height="19" fill="#26a69a"/>
<rect x="612" y="312" width="3" height="8" fill="#26a69a"/>
<rect x="616" y="301" width="1" height="16" fill="#26a69a"/>
<rect x="615" y="304" width="3" height="8" fill="#26a69a"/>
<rect x="619" y="301" width="1" height="13" fill="#ef5350"/>
<rect x="618" y="304" width="3" height="7" fill="#ef5350"/>
<rect x="622" y="310" width="1" height="4" fill="#ef5350"/>
<rect x="621" y="310" width="3" height="4" fill="#ef5350"/>
<rect x="625" y="311" width="1" height="5" fill="#26a69a"/>
<rect x="624" y="313" width="3" height="2" fill="#26a69a"/>
<rect x="628" y="307" width="1" height="9" fill="#ef5350"/>
<rect x="627" y="313" width="3" height="1" fill="#ef5350"/>
<rect x="631" y="306" width="1" height="11" fill="#26a69a"/>
<rect x="630" y="313" width="3" height="1" fill="#26a69a"/>
<rect x="634" y="311" width="1" height="6" fill="#ef5350"/>
<rect x="633" y="313" width="3" height="4" fill="#ef5350"/>
<rect x="637" y="315" width="1" height="5" fill="#ef5350"/>
<rect x="636" y="315" width="3" height="5" fill="#ef5350"/>
<rect x="640" y="313" width="1" height="7" fill="#26a69a"/>
<rect x="639" y="316" width="3" height="3" fill="#26a69a"/>
<rect x="642" y="312" width="1" height="6" fill="#26a69a"/>
<rect x="641" y="315" width="3" height="3" fill="#26a69a"/>
<rect x="645" y="312" width="1" height="6" fill="#26a69a"/>
<rect x="644" y="313" width="3" height="5" fill="#26a69a"/>
<rect x="648" y="309" width="1" height="7" fill="#ef5350"/>
<rect x="647" y="314" width="3" height="2" fill="#ef5350"/>
<rect x="651" y="315" width="1" height="4" fill="#ef5350"/>
<rect x="650" y="315" width="3" height="4" fill="#ef5350"/>
<rect x="654" y="313" width="1" height="6" fill="#26a69a"/>
<rect x="653" y="313" width="3" height="6" fill="#26a69a"/>
<rect x="657" y="307" width="1" height="11" fill="#26a69a"/>
<rect x="656" y="309" width="3" height="9" fill="#26a69a"/>
<rect x="660" y="305" width="1" height="8" fill="#ef5350"/>
<rect x="659" y="309" width="3" height="2" fill="#ef5350"/>
<rect x="663" y="292" width="1" height="21" fill="#26a69a"/>
<rect x="662" y="306" width="3" height="6" fill="#26a69a"/>
<rect x="666" y="295" width="1" height="12" fill="#26a69a"/>
<rect x="665" y="296" width="3" height="11" fill="#26a69a"/>
<rect x="669" y="271" width="1" height="26" fill="#26a69a"/>
<rect x="668" y="274" width="3" height="23" fill="#26a69a"/>
<rect x="672" y="275" width="1" height="9" fill="#ef5350"/>
<rect x="671" y="276" width="3" height="2" fill="#ef5350"/>
<rect x="675" y="275" width="1" height="15" fill="#ef5350"/>
<rect x="674" y="278" width="3" height="9" fill="#ef5350"/>
<rect x="677" y="282" width="1" height="11" fill="#26a69a"/>
<rect x="676" y="283" width="3" height="4" fill="#26a69a"/>
<rect x="680" y="277" width="1" height="12" fill="#26a69a"/>
<rect x="679" y="277" width="3" height="10" fill="#26a69a"/>
<rect x="683" y="277" width="1" height="10" fill="#ef5350"/>
<rect x="682" y="277" width="3" height="10" fill="#ef5350"/>
<rect x="686" y="280" width="1" height="9" fill="#26a69a"/>
<rect x="685" y="280" width="3" height="6" fill="#26a69a"/>
<rect x="689" y="274" width="1" height="9" fill="#26a69a"/>
<rect x="688" y="277" width="3" height="4" fill="#26a69a"/>
<rect x="692" y="264" width="1" height="17" fill="#ef5350"/>
<rect x="691" y="277" width="3" height="4" fill="#ef5350"/>
<rect x="695" y="275" width="1" height="7" fill="#26a69a"/>
<rect x="694" y="277" width="3" height="3" fill="#26a69a"/>
<rect x="698" y="271" width="1" height="7" fill="#26a69a"/>
<rect x="697" y="275" width="3" height="2" fill="#26a69a"/>
<rect x="701" y="272" width="1" height="10" fill="#ef5350"/>
<rect x="700" y="275" width="3" height="7" fill="#ef5350"/>
<rect x="704" y="279" width="1" height="8" fill="#ef5350"/>
<rect x="703" y="279" width="3" height="8" fill="#ef5350"/>
<rect x="707" y="283" width="1" height="5" fill="#26a69a"/>
<rect x="706" y="284" width="3" height="3" fill="#26a69a"/>
<rect x="710" y="286" width="1" height="5" fill="#ef5350"/>
<rect x="709" y="286" width="3" height="2" fill="#ef5350"/>
<rect x="713" y="281" width="1" height="7" fill="#26a69a"/>
<rect x="712" y="284" width="3" height="4" fill="#26a69a"/>
<rect x="716" y="282" width="1" height="2" fill="#26a69a"/>
<rect x="715" y="282" width="3" height="2" fill="#26a69a"/>
<rect x="718" y="280" width="1" height="4" fill="#26a69a"/>
<rect x="717" y="282" width="3" height="1" fill="#26a69a"/>
<rect x="721" y="281" width="1" height="5" fill="#ef5350"/>
<rect x="720" y="281" width="3" height="2" fill="#ef5350"/>
<rect x="724" y="277" width="1" height="6" fill="#26a69a"/>
<rect x="723" y="277" width="3" height="6" fill="#26a69a"/>
<rect x="727" y="273" width="1" height="11" fill="#ef5350"/>
<rect x="726" y="276" width="3" height="2" fill="#ef5350"/>
<rect x="730" y="272" width="1" height="8" fill="#ef5350"/>
<rect x="729" y="275" width="3" height="5" fill="#ef5350"/>
<rect x="733" y="279" width="1" height="8" fill="#ef5350"/>
<rect x="732" y="279" width="3" height="6" fill="#ef5350"/>
<rect x="736" y="280" width="1" height="4" fill="#26a69a"/>
<rect x="735" y="280" width="3" height="4" fill="#26a69a"/>
<rect x="739" y="275" width="1" height="8" fill="#26a69a"/>
<rect x="738" y="275" width="3" height="5" fill="#26a69a"/>
<rect x="742" y="260" width="1" height="18" fill="#26a69a"/>
<rect x="741" y="266" width="3" height="10" fill="#26a69a"/>
<rect x="745" y="266" width="1" height="43" fill="#ef5350"/>
<rect x="744" y="266" width="3" height="32" fill="#ef5350"/>
<rect x="748" y="290" width="1" height="11" fill="#26a69a"/>
<rect x="747" y="295" width="3" height="3" fill="#26a69a"/>
<rect x="751" y="298" width="1" height="20" fill="#ef5350"/>
<rect x="750" y="298" width="3" height="12" fill="#ef5350"/>
<rect x="754" y="305" width="1" height="10" fill="#ef5350"/>
<rect x="753" y="310" width="3" height="1" fill="#ef5350"/>
<rect x="756" y="308" width="1" height="10" fill="#ef5350"/>
<rect x="755" y="313" width="3" height="1" fill="#ef5350"/>
<rect x="759" y="311" width="1" height="15" fill="#26a69a"/>
<rect x="758" y="311" width="3" height="3" fill="#26a69a"/>
<rect x="762" y="308" width="1" height="7" fill="#26a69a"/>
<rect x="761" y="309" width="3" height="3" fill="#26a69a"/>
<rect x="765" y="308" width="1" height="12" fill="#ef5350"/>
<rect x="764" y="308" width="3" height="9" fill="#ef5350"/>
<rect x="768" y="313" width="1" height="6" fill="#ef5350"/>
<rect x="767" y="318" width="3" height="1" fill="#ef5350"/>
<rect x="771" y="311" width="1" height="12" fill="#26a69a"/>
<rect x="770" y="311" width="3" height="7" fill="#26a69a"/>
<rect x="774" y="312" width="1" height="6" fill="#ef5350"/>
<rect x="773" y="312" width="3" height="6" fill="#ef5350"/>
<rect x="777" y="312" width="1" height="10" fill="#26a69a"/>
<rect x="776" y="313" width="3" height="5" fill="#26a69a"/>
<rect x="780" y="313" width="1" height="5" fill="#ef5350"/>
<rect x="779" y="313" width="3" height="1" fill="#ef5350"/>
<rect x="783" y="310" width="1" height="5" fill="#26a69a"/>
<rect x="782" y="313" width="3" height="2" fill="#26a69a"/>
<rect x="786" y="307" width="1" height="7" fill="#26a69a"/>
<rect x="785" y="307" width="3" height="7" fill="#26a69a"/>
<rect x="788" y="304" width="1" height="5" fill="#ef5350"/>
<rect x="787" y="308" width="3" height="1" fill="#ef5350"/>
<rect x="791" y="308" width="1" height="9" fill="#ef5350"/>
<rect x="790" y="308" width="3" height="9" fill="#ef5350"/>
<rect x="794" y="315" width="1" height="9" fill="#ef5350"/>
<rect x="793" y="315" width="3" height="6" fill="#ef5350"/>
<rect x="797" y="314" width="1" height="6" fill="#26a69a"/>
<rect x="796" y="318" width="3" height="2" fill="#26a69a"/>
<rect x="800" y="317" width="1" height="19" fill="#ef5350"/>
<rect x="799" y="317" width="3" height="15" fill="#ef5350"/>
<rect x="803" y="333" width="1" height="7" fill="#ef5350"/>
<rect x="802" y="333" width="3" height="2" fill="#ef5350"/>
<rect x="806" y="327" width="1" height="15" fill="#26a69a"/>
<rect x="805" y="333" width="3" height="2" fill="#26a69a"/>
<rect x="809" y="325" width="1" height="9" fill="#26a69a"/>
<rect x="808" y="331" width="3" height="3" fill="#26a69a"/>
<rect x="2" y="177" width="5" height="1" fill="#00923f"/><rect x="13" y="177" width="5" height="1" fill="#00923f"/><rect x="24" y="177" width="5" height="1" fill="#00923f"/><rect x="35" y="177" width="5" height="1" fill="#00923f"/><rect x="46" y="177" width="5" height="1" fill="#00923f"/><rect x="57" y="177" width="5" height="1" fill="#00923f"/><rect x="68" y="177" width="5" height="1" fill="#00923f"/><rect x="79" y="177" width="5" height="1" fill="#00923f"/><rect x="90" y="177" width="5" height="1" fill="#00923f"/><rect x="101" y="177" width="5" height="1" fill="#00923f"/><rect x="112" y="177" width="5" height="1" fill="#00923f"/><rect x="123" y="177" width="5" height="1" fill="#00923f"/><rect x="134" y="177" width="5" height="1" fill="#00923f"/><rect x="145" y="177" width="5" height="1" fill="#00923f"/><rect x="156" y="177" width="5" height="1" fill="#00923f"/><rect x="167" y="177" width="5" height="1" fill="#00923f"/><rect x="178" y="177" width="5" height="1" fill="#00923f"/><rect x="189" y="177" width="5" height="1" fill="#00923f"/><rect x="200" y="177" width="5" height="1" fill="#00923f"/><rect x="211" y="177" width="5" height="1" fill="#00923f"/><rect x="222" y="177" width="5" height="1" fill="#00923f"/><rect x="233" y="177" width="5" height="1" fill="#00923f"/><rect x="244" y="177" width="5" height="1" fill="#00923f"/><rect x="255" y="177" width="5" height="1" fill="#00923f"/><rect x="266" y="177" width="5" height="1" fill="#00923f"/><rect x="277" y="177" width="5" height="1" fill="#00923f"/><rect x="288" y="177" width="5" height="1" fill="#00923f"/><rect x="299" y="177" width="5" height="1" fill="#00923f"/><rect x="310" y="177" width="5" height="1" fill="#00923f"/><rect x="321" y="177" width="5" height="1" fill="#00923f"/><rect x="332" y="177" width="5" height="1" fill="#00923f"/><rect x="343" y="177" width="5" height="1" fill="#00923f"/><rect x="354" y="177" width="5" height="1" fill="#00923f"/><rect x="365" y="177" width="5" height="1" fill="#00923f"/><rect x="376" y="177" width="5" height="1" fill="#00923f"/><rect x="387" y="177" width="5" height="1" fill="#00923f"/><rect x="398" y="177" width="5" height="1" fill="#00923f"/><rect x="409" y="177" width="5" height="1" fill="#00923f"/><rect x="420" y="177" width="5" height="1" fill="#00923f"/><rect x="431" y="177" width="5" height="1" fill="#00923f"/><rect x="442" y="177" width="5" height="1" fill="#00923f"/><rect x="453" y="177" width="5" height="1" fill="#00923f"/><rect x="464" y="177" width="5" height="1" fill="#00923f"/><rect x="475" y="177" width="5" height="1" fill="#00923f"/><rect x="486" y="177" width="5" height="1" fill="#00923f"/><rect x="497" y="177" width="5" height="1" fill="#00923f"/><rect x="508" y="177" width="5" height="1" fill="#00923f"/><rect x="519" y="177" width="5" height="1" fill="#00923f"/><rect x="530" y="177" width="5" height="1" fill="#00923f"/><rect x="541" y="177" width="5" height="1" fill="#00923f"/><rect x="552" y="177" width="5" height="1" fill="#00923f"/><rect x="563" y="177" width="5" height="1" fill="#00923f"/><rect x="574" y="177" width="5" height="1" fill="#00923f"/><rect x="585" y="177" width="5" height="1" fill="#00923f"/><rect x="596" y="177" width="5" height="1" fill="#00923f"/><rect x="607" y="177" width="5" height="1" fill="#00923f"/><rect x="618" y="177" width="5" height="1" fill="#00923f"/><rect x="629" y="177" width="5" height="1" fill="#00923f"/><rect x="640" y="177" width="5" height="1" fill="#00923f"/><rect x="651" y="177" width="5" height="1" fill="#00923f"/><rect x="662" y="177" width="5" height="1" fill="#00923f"/><rect x="673" y="177" width="5" height="1" fill="#00923f"/><rect x="684" y="177" width="5" height="1" fill="#00923f"/><rect x="695" y="177" width="5" height="1" fill="#00923f"/><rect x="706" y="177" width="5" height="1" fill="#00923f"/><rect x="717" y="177" width="5" height="1" fill="#00923f"/><rect x="728" y="177" width="5" height="1" fill="#00923f"/><rect x="739" y="177" width="5" height="1" fill="#00923f"/><rect x="750" y="177" width="5" height="1" fill="#00923f"/><rect x="761" y="177" width="5" height="1" fill="#00923f"/><rect x="772" y="177" width="5" height="1" fill="#00923f"/><rect x="783" y="177" width="5" height="1" fill="#00923f"/><rect x="794" y="177" width="5" height="1" fill="#00923f"/><rect x="805" y="177" width="5" height="1" fill="#00923f"/><rect x="816" y="177" width="5" height="1" fill="#00923f"/><rect x="827" y="177" width="5" height="1" fill="#00923f"/><rect x="838" y="177" width="5" height="1" fill="#00923f"/><rect x="849" y="177" width="5" height="1" fill="#00923f"/><rect x="860" y="177" width="5" height="1" fill="#00923f"/><rect x="871" y="177" width="5" height="1" fill="#00923f"/><rect x="882" y="177" width="5" height="1" fill="#00923f"/><rect x="893" y="177" width="5" height="1" fill="#00923f"/><rect x="904" y="177" width="5" height="1" fill="#00923f"/><rect x="915" y="177" width="5" height="1" fill="#00923f"/><rect x="926" y="177" width="5" height="1" fill="#00923f"/><rect x="937" y="177" width="5" height="1" fill="#00923f"/><rect x="948" y="177" width="5" height="1" fill="#00923f"/><rect x="959" y="177" width="5" height="1" fill="#00923f"/><rect x="970" y="177" width="5" height="1" fill="#00923f"/><rect x="981" y="177" width="5" height="1" fill="#00923f"/><rect x="992" y="177" width="5" height="1" fill="#00923f"/><rect x="1003" y="177" width="5" height="1" fill="#00923f"/><rect x="1014" y="177" width="5" height="1" fill="#00923f"/><rect x="1025" y="177" width="5" height="1" fill="#00923f"/><rect x="1036" y="177" width="5" height="1" fill="#00923f"/><rect x="1047" y="177" width="5" height="1" fill="#00923f"/><rect x="1058" y="177" width="5" height="1" fill="#00923f"/><rect x="1069" y="177" width="5" height="1" fill="#00923f"/><rect x="1080" y="177" width="5" height="1" fill="#00923f"/><rect x="1091" y="177" width="5" height="1" fill="#00923f"/><rect x="1102" y="177" width="5" height="1" fill="#00923f"/><rect x="1113" y="177" width="5" height="1" fill="#00923f"/><rect x="1124" y="177" width="5" height="1" fill="#00923f"/><rect x="1135" y="177" width="5" height="1" fill="#00923f"/><rect x="1146" y="177" width="5" height="1" fill="#00923f"/><rect x="1157" y="177" width="5" height="1" fill="#00923f"/><rect x="1168" y="177" width="5" height="1" fill="#00923f"/><rect x="1179" y="177" width="5" height="1" fill="#00923f"/><rect x="1190" y="177" width="5" height="1" fill="#00923f"/><rect x="1201" y="177" width="3" height="1" fill="#00923f"/>
<rect x="2" y="204" width="5" height="1" fill="#00923f"/><rect x="13" y="204" width="5" height="1" fill="#00923f"/><rect x="24" y="204" width="5" height="1" fill="#00923f"/><rect x="35" y="204" width="5" height="1" fill="#00923f"/><rect x="46" y="204" width="5" height="1" fill="#00923f"/><rect x="57" y="204" width="5" height="1" fill="#00923f"/><rect x="68" y="204" width="5" height="1" fill="#00923f"/><rect x="79" y="204" width="5" height="1" fill="#00923f"/><rect x="90" y="204" width="5" height="1" fill="#00923f"/><rect x="101" y="204" width="5" height="1" fill="#00923f"/><rect x="112" y="204" width="5" height="1" fill="#00923f"/><rect x="123" y="204" width="5" height="1" fill="#00923f"/><rect x="134" y="204" width="5" height="1" fill="#00923f"/><rect x="145" y="204" width="5" height="1" fill="#00923f"/><rect x="156" y="204" width="5" height="1" fill="#00923f"/><rect x="167" y="204" width="5" height="1" fill="#00923f"/><rect x="178" y="204" width="5" height="1" fill="#00923f"/><rect x="189" y="204" width="5" height="1" fill="#00923f"/><rect x="200" y="204" width="5" height="1" fill="#00923f"/><rect x="211" y="204" width="5" height="1" fill="#00923f"/><rect x="222" y="204" width="5" height="1" fill="#00923f"/><rect x="233" y="204" width="5" height="1" fill="#00923f"/><rect x="244" y="204" width="5" height="1" fill="#00923f"/><rect x="255" y="204" width="5" height="1" fill="#00923f"/><rect x="266" y="204" width="5" height="1" fill="#00923f"/><rect x="277" y="204" width="5" height="1" fill="#00923f"/><rect x="288" y="204" width="5" height="1" fill="#00923f"/><rect x="299" y="204" width="5" height="1" fill="#00923f"/><rect x="310" y="204" width="5" height="1" fill="#00923f"/><rect x="321" y="204" width="5" height="1" fill="#00923f"/><rect x="332" y="204" width="5" height="1" fill="#00923f"/><rect x="343" y="204" width="5" height="1" fill="#00923f"/><rect x="354" y="204" width="5" height="1" fill="#00923f"/><rect x="365" y="204" width="5" height="1" fill="#00923f"/><rect x="376" y="204" width="5" height="1" fill="#00923f"/><rect x="387" y="204" width="5" height="1" fill="#00923f"/><rect x="398" y="204" width="5" height="1" fill="#00923f"/><rect x="409" y="204" width="5" height="1" fill="#00923f"/><rect x="420" y="204" width="5" height="1" fill="#00923f"/><rect x="431" y="204" width="5" height="1" fill="#00923f"/><rect x="442" y="204" width="5" height="1" fill="#00923f"/><rect x="453" y="204" width="5" height="1" fill="#00923f"/><rect x="464" y="204" width="5" height="1" fill="#00923f"/><rect x="475" y="204" width="5" height="1" fill="#00923f"/><rect x="486" y="204" width="5" height="1" fill="#00923f"/><rect x="497" y="204" width="5" height="1" fill="#00923f"/><rect x="508" y="204" width="5" height="1" fill="#00923f"/><rect x="519" y="204" width="5" height="1" fill="#00923f"/><rect x="530" y="204" width="5" height="1" fill="#00923f"/><rect x="541" y="204" width="5" height="1" fill="#00923f"/><rect x="552" y="204" width="5" height="1" fill="#00923f"/><rect x="563" y="204" width="5" height="1" fill="#00923f"/><rect x="574" y="204" width="5" height="1" fill="#00923f"/><rect x="585" y="204" width="5" height="1" fill="#00923f"/><rect x="596" y="204" width="5" height="1" fill="#00923f"/><rect x="607" y="204" width="5" height="1" fill="#00923f"/><rect x="618" y="204" width="5" height="1" fill="#00923f"/><rect x="629" y="204" width="5" height="1" fill="#00923f"/><rect x="640" y="204" width="5" height="1" fill="#00923f"/><rect x="651" y="204" width="5" height="1" fill="#00923f"/><rect x="662" y="204" width="5" height="1" fill="#00923f"/><rect x="673" y="204" width="5" height="1" fill="#00923f"/><rect x="684" y="204" width="5" height="1" fill="#00923f"/><rect x="695" y="204" width="5" height="1" fill="#00923f"/><rect x="706" y="204" width="5" height="1" fill="#00923f"/><rect x="717" y="204" width="5" height="1" fill="#00923f"/><rect x="728" y="204" width="5" height="1" fill="#00923f"/><rect x="739" y="204" width="5" height="1" fill="#00923f"/><rect x="750" y="204" width="5" height="1" fill="#00923f"/><rect x="761" y="204" width="5" height="1" fill="#00923f"/><rect x="772" y="204" width="5" height="1" fill="#00923f"/><rect x="783" y="204" width="5" height="1" fill="#00923f"/><rect x="794" y="204" width="5" height="1" fill="#00923f"/><rect x="805" y="204" width="5" height="1" fill="#00923f"/><rect x="816" y="204" width="5" height="1" fill="#00923f"/><rect x="827" y="204" width="5" height="1" fill="#00923f"/><rect x="838" y="204" width="5" height="1" fill="#00923f"/><rect x="849" y="204" width="5" height="1" fill="#00923f"/><rect x="860" y="204" width="5" height="1" fill="#00923f"/><rect x="871" y="204" width="5" height="1" fill="#00923f"/><rect x="882" y="204" width="5" height="1" fill="#00923f"/><rect x="893" y="204" width="5" height="1" fill="#00923f"/><rect x="904" y="204" width="5" height="1" fill="#00923f"/><rect x="915" y="204" width="5" height="1" fill="#00923f"/><rect x="926" y="204" width="5" height="1" fill="#00923f"/><rect x="937" y="204" width="5" height="1" fill="#00923f"/><rect x="948" y="204" width="5" height="1" fill="#00923f"/><rect x="959" y="204" width="5" height="1" fill="#00923f"/><rect x="970" y="204" width="5" height="1" fill="#00923f"/><rect x="981" y="204" width="5" height="1" fill="#00923f"/><rect x="992" y="204" width="5" height="1" fill="#00923f"/><rect x="1003" y="204" width="5" height="1" fill="#00923f"/><rect x="1014" y="204" width="5" height="1" fill="#00923f"/><rect x="1025" y="204" width="5" height="1" fill="#00923f"/><rect x="1036" y="204" width="5" height="1" fill="#00923f"/><rect x="1047" y="204" width="5" height="1" fill="#00923f"/><rect x="1058" y="204" width="5" height="1" fill="#00923f"/><rect x="1069" y="204" width="5" height="1" fill="#00923f"/><rect x="1080" y="204" width="5" height="1" fill="#00923f"/><rect x="1091" y="204" width="5" height="1" fill="#00923f"/><rect x="1102" y="204" width="5" height="1" fill="#00923f"/><rect x="1113" y="204" width="5" height="1" fill="#00923f"/><rect x="1124" y="204" width="5" height="1" fill="#00923f"/><rect x="1135" y="204" width="5" height="1" fill="#00923f"/><rect x="1146" y="204" width="5" height="1" fill="#00923f"/><rect x="1157" y="204" width="5" height="1" fill="#00923f"/><rect x="1168" y="204" width="5" height="1" fill="#00923f"/><rect x="1179" y="204" width="5" height="1" fill="#00923f"/><rect x="1190" y="204" width="5" height="1" fill="#00923f"/><rect x="1201" y="204" width="3" height="1" fill="#00923f"/>
<rect x="2" y="226" width="5" height="1" fill="#00923f"/><rect x="13" y="226" width="5" height="1" fill="#00923f"/><rect x="24" y="226" width="5" height="1" fill="#00923f"/><rect x="35" y="226" width="5" height="1" fill="#00923f"/><rect x="46" y="226" width="5" height="1" fill="#00923f"/><rect x="57" y="226" width="5" height="1" fill="#00923f"/><rect x="68" y="226" width="5" height="1" fill="#00923f"/><rect x="79" y="226" width="5" height="1" fill="#00923f"/><rect x="90" y="226" width="5" height="1" fill="#00923f"/><rect x="101" y="226" width="5" height="1" fill="#00923f"/><rect x="112" y="226" width="5" height="1" fill="#00923f"/><rect x="123" y="226" width="5" height="1" fill="#00923f"/><rect x="134" y="226" width="5" height="1" fill="#00923f"/><rect x="145" y="226" width="5" height="1" fill="#00923f"/><rect x="156" y="226" width="5" height="1" fill="#00923f"/><rect x="167" y="226" width="5" height="1" fill="#00923f"/><rect x="178" y="226" width="5" height="1" fill="#00923f"/><rect x="189" y="226" width="5" height="1" fill="#00923f"/><rect x="200" y="226" width="5" height="1" fill="#00923f"/><rect x="211" y="226" width="5" height="1" fill="#00923f"/><rect x="222" y="226" width="5" height="1" fill="#00923f"/><rect x="233" y="226" width="5" height="1" fill="#00923f"/><rect x="244" y="226" width="5" height="1" fill="#00923f"/><rect x="255" y="226" width="5" height="1" fill="#00923f"/><rect x="266" y="226" width="5" height="1" fill="#00923f"/><rect x="277" y="226" width="5" height="1" fill="#00923f"/><rect x="288" y="226" width="5" height="1" fill="#00923f"/><rect x="299" y="226" width="5" height="1" fill="#00923f"/><rect x="310" y="226" width="5" height="1" fill="#00923f"/><rect x="321" y="226" width="5" height="1" fill="#00923f"/><rect x="332" y="226" width="5" height="1" fill="#00923f"/><rect x="343" y="226" width="5" height="1" fill="#00923f"/><rect x="354" y="226" width="5" height="1" fill="#00923f"/><rect x="365" y="226" width="5" height="1" fill="#00923f"/><rect x="376" y="226" width="5" height="1" fill="#00923f"/><rect x="387" y="226" width="5" height="1" fill="#00923f"/><rect x="398" y="226" width="5" height="1" fill="#00923f"/><rect x="409" y="226" width="5" height="1" fill="#00923f"/><rect x="420" y="226" width="5" height="1" fill="#00923f"/><rect x="431" y="226" width="5" height="1" fill="#00923f"/><rect x="442" y="226" width="5" height="1" fill="#00923f"/><rect x="453" y="226" width="5" height="1" fill="#00923f"/><rect x="464" y="226" width="5" height="1" fill="#00923f"/><rect x="475" y="226" width="5" height="1" fill="#00923f"/><rect x="486" y="226" width="5" height="1" fill="#00923f"/><rect x="497" y="226" width="5" height="1" fill="#00923f"/><rect x="508" y="226" width="5" height="1" fill="#00923f"/><rect x="519" y="226" width="5" height="1" fill="#00923f"/><rect x="530" y="226" width="5" height="1" fill="#00923f"/><rect x="541" y="226" width="5" height="1" fill="#00923f"/><rect x="552" y="226" width="5" height="1" fill="#00923f"/><rect x="563" y="226" width="5" height="1" fill="#00923f"/><rect x="574" y="226" width="5" height="1" fill="#00923f"/><rect x="585" y="226" width="5" height="1" fill="#00923f"/><rect x="596" y="226" width="5" height="1" fill="#00923f"/><rect x="607" y="226" width="5" height="1" fill="#00923f"/><rect x="618" y="226" width="5" height="1" fill="#00923f"/><rect x="629" y="226" width="5" height="1" fill="#00923f"/><rect x="640" y="226" width="5" height="1" fill="#00923f"/><rect x="651" y="226" width="5" height="1" fill="#00923f"/><rect x="662" y="226" width="5" height="1" fill="#00923f"/><rect x="673" y="226" width="5" height="1" fill="#00923f"/><rect x="684" y="226" width="5" height="1" fill="#00923f"/><rect x="695" y="226" width="5" height="1" fill="#00923f"/><rect x="706" y="226" width="5" height="1" fill="#00923f"/><rect x="717" y="226" width="5" height="1" fill="#00923f"/><rect x="728" y="226" width="5" height="1" fill="#00923f"/><rect x="739" y="226" width="5" height="1" fill="#00923f"/><rect x="750" y="226" width="5" height="1" fill="#00923f"/><rect x="761" y="226" width="5" height="1" fill="#00923f"/><rect x="772" y="226" width="5" height="1" fill="#00923f"/><rect x="783" y="226" width="5" height="1" fill="#00923f"/><rect x="794" y="226" width="5" height="1" fill="#00923f"/><rect x="805" y="226" width="5" height="1" fill="#00923f"/><rect x="816" y="226" width="5" height="1" fill="#00923f"/><rect x="827" y="226" width="5" height="1" fill="#00923f"/><rect x="838" y="226" width="5" height="1" fill="#00923f"/><rect x="849" y="226" width="5" height="1" fill="#00923f"/><rect x="860" y="226" width="5" height="1" fill="#00923f"/><rect x="871" y="226" width="5" height="1" fill="#00923f"/><rect x="882" y="226" width="5" height="1" fill="#00923f"/><rect x="893" y="226" width="5" height="1" fill="#00923f"/><rect x="904" y="226" width="5" height="1" fill="#00923f"/><rect x="915" y="226" width="5" height="1" fill="#00923f"/><rect x="926" y="226" width="5" height="1" fill="#00923f"/><rect x="937" y="226" width="5" height="1" fill="#00923f"/><rect x="948" y="226" width="5" height="1" fill="#00923f"/><rect x="959" y="226" width="5" height="1" fill="#00923f"/><rect x="970" y="226" width="5" height="1" fill="#00923f"/><rect x="981" y="226" width="5" height="1" fill="#00923f"/><rect x="992" y="226" width="5" height="1" fill="#00923f"/><rect x="1003" y="226" width="5" height="1" fill="#00923f"/><rect x="1014" y="226" width="5" height="1" fill="#00923f"/><rect x="1025" y="226" width="5" height="1" fill="#00923f"/><rect x="1036" y="226" width="5" height="1" fill="#00923f"/><rect x="1047" y="226" width="5" height="1" fill="#00923f"/><rect x="1058" y="226" width="5" height="1" fill="#00923f"/><rect x="1069" y="226" width="5" height="1" fill="#00923f"/><rect x="1080" y="226" width="5" height="1" fill="#00923f"/><rect x="1091" y="226" width="5" height="1" fill="#00923f"/><rect x="1102" y="226" width="5" height="1" fill="#00923f"/><rect x="1113" y="226" width="5" height="1" fill="#00923f"/><rect x="1124" y="226" width="5" height="1" fill="#00923f"/><rect x="1135" y="226" width="5" height="1" fill="#00923f"/><rect x="1146" y="226" width="5" height="1" fill="#00923f"/><rect x="1157" y="226" width="5" height="1" fill="#00923f"/><rect x="1168" y="226" width="5" height="1" fill="#00923f"/><rect x="1179" y="226" width="5" height="1" fill="#00923f"/><rect x="1190" y="226" width="5" height="1" fill="#00923f"/><rect x="1201" y="226" width="3" height="1" fill="#00923f"/>
<rect x="2" y="247" width="5" height="1" fill="#555555"/><rect x="13" y="247" width="5" height="1" fill="#555555"/><rect x="24" y="247" width="5" height="1" fill="#555555"/><rect x="35" y="247" width="5" height="1" fill="#555555"/><rect x="46" y="247" width="5" height="1" fill="#555555"/><rect x="57" y="247" width="5" height="1" fill="#555555"/><rect x="68" y="247" width="5" height="1" fill="#555555"/><rect x="79" y="247" width="5" height="1" fill="#555555"/><rect x="90" y="247" width="5" height="1" fill="#555555"/><rect x="101" y="247" width="5" height="1" fill="#555555"/><rect x="112" y="247" width="5" height="1" fill="#555555"/><rect x="123" y="247" width="5" height="1" fill="#555555"/><rect x="134" y="247" width="5" height="1" fill="#555555"/><rect x="145" y="247" width="5" height="1" fill="#555555"/><rect x="156" y="247" width="5" height="1" fill="#555555"/><rect x="167" y="247" width="5" height="1" fill="#555555"/><rect x="178" y="247" width="5" height="1" fill="#555555"/><rect x="189" y="247" width="5" height="1" fill="#555555"/><rect x="200" y="247" width="5" height="1" fill="#555555"/><rect x="211" y="247" width="5" height="1" fill="#555555"/><rect x="222" y="247" width="5" height="1" fill="#555555"/><rect x="233" y="247" width="5" height="1" fill="#555555"/><rect x="244" y="247" width="5" height="1" fill="#555555"/><rect x="255" y="247" width="5" height="1" fill="#555555"/><rect x="266" y="247" width="5" height="1" fill="#555555"/><rect x="277" y="247" width="5" height="1" fill="#555555"/><rect x="288" y="247" width="5" height="1" fill="#555555"/><rect x="299" y="247" width="5" height="1" fill="#555555"/><rect x="310" y="247" width="5" height="1" fill="#555555"/><rect x="321" y="247" width="5" height="1" fill="#555555"/><rect x="332" y="247" width="5" height="1" fill="#555555"/><rect x="343" y="247" width="5" height="1" fill="#555555"/><rect x="354" y="247" width="5" height="1" fill="#555555"/><rect x="365" y="247" width="5" height="1" fill="#555555"/><rect x="376" y="247" width="5" height="1" fill="#555555"/><rect x="387" y="247" width="5" height="1" fill="#555555"/><rect x="398" y="247" width="5" height="1" fill="#555555"/><rect x="409" y="247" width="5" height="1" fill="#555555"/><rect x="420" y="247" width="5" height="1" fill="#555555"/><rect x="431" y="247" width="5" height="1" fill="#555555"/><rect x="442" y="247" width="5" height="1" fill="#555555"/><rect x="453" y="247" width="5" height="1" fill="#555555"/><rect x="464" y="247" width="5" height="1" fill="#555555"/><rect x="475" y="247" width="5" height="1" fill="#555555"/><rect x="486" y="247" width="5" height="1" fill="#555555"/><rect x="497" y="247" width="5" height="1" fill="#555555"/><rect x="508" y="247" width="5" height="1" fill="#555555"/><rect x="519" y="247" width="5" height="1" fill="#555555"/><rect x="530" y="247" width="5" height="1" fill="#555555"/><rect x="541" y="247" width="5" height="1" fill="#555555"/><rect x="552" y="247" width="5" height="1" fill="#555555"/><rect x="563" y="247" width="5" height="1" fill="#555555"/><rect x="574" y="247" width="5" height="1" fill="#555555"/><rect x="585" y="247" width="5" height="1" fill="#555555"/><rect x="596" y="247" width="5" height="1" fill="#555555"/><rect x="607" y="247" width="5" height="1" fill="#555555"/><rect x="618" y="247" width="5" height="1" fill="#555555"/><rect x="629" y="247" width="5" height="1" fill="#555555"/><rect x="640" y="247" width="5" height="1" fill="#555555"/><rect x="651" y="247" width="5" height="1" fill="#555555"/><rect x="662" y="247" width="5" height="1" fill="#555555"/><rect x="673" y="247" width="5" height="1" fill="#555555"/><rect x="684" y="247" width="5" height="1" fill="#555555"/><rect x="695" y="247" width="5" height="1" fill="#555555"/><rect x="706" y="247" width="5" height="1" fill="#555555"/><rect x="717" y="247" width="5" height="1" fill="#555555"/><rect x="728" y="247" width="5" height="1" fill="#555555"/><rect x="739" y="247" width="5" height="1" fill="#555555"/><rect x="750" y="247" width="5" height="1" fill="#555555"/><rect x="761" y="247" width="5" height="1" fill="#555555"/><rect x="772" y="247" width="5" height="1" fill="#555555"/><rect x="783" y="247" width="5" height="1" fill="#555555"/><rect x="794" y="247" width="5" height="1" fill="#555555"/><rect x="805" y="247" width="5" height="1" fill="#555555"/><rect x="816" y="247" width="5" height="1" fill="#555555"/><rect x="827" y="247" width="5" height="1" fill="#555555"/><rect x="838" y="247" width="5" height="1" fill="#555555"/><rect x="849" y="247" width="5" height="1" fill="#555555"/><rect x="860" y="247" width="5" height="1" fill="#555555"/><rect x="871" y="247" width="5" height="1" fill="#555555"/><rect x="882" y="247" width="5" height="1" fill="#555555"/><rect x="893" y="247" width="5" height="1" fill="#555555"/><rect x="904" y="247" width="5" height="1" fill="#555555"/><rect x="915" y="247" width="5" height="1" fill="#555555"/><rect x="926" y="247" width="5" height="1" fill="#555555"/><rect x="937" y="247" width="5" height="1" fill="#555555"/><rect x="948" y="247" width="5" height="1" fill="#555555"/><rect x="959" y="247" width="5" height="1" fill="#555555"/><rect x="970" y="247" width="5" height="1" fill="#555555"/><rect x="981" y="247" width="5" height="1" fill="#555555"/><rect x="992" y="247" width="5" height="1" fill="#555555"/><rect x="1003" y="247" width="5" height="1" fill="#555555"/><rect x="1014" y="247" width="5" height="1" fill="#555555"/><rect x="1025" y="247" width="5" height="1" fill="#555555"/><rect x="1036" y="247" width="5" height="1" fill="#555555"/><rect x="1047" y="247" width="5" height="1" fill="#555555"/><rect x="1058" y="247" width="5" height="1" fill="#555555"/><rect x="1069" y="247" width="5" height="1" fill="#555555"/><rect x="1080" y="247" width="5" height="1" fill="#555555"/><rect x="1091" y="247" width="5" height="1" fill="#555555"/><rect x="1102" y="247" width="5" height="1" fill="#555555"/><rect x="1113" y="247" width="5" height="1" fill="#555555"/><rect x="1124" y="247" width="5" height="1" fill="#555555"/><rect x="1135" y="247" width="5" height="1" fill="#555555"/><rect x="1146" y="247" width="5" height="1" fill="#555555"/><rect x="1157" y="247" width="5" height="1" fill="#555555"/><rect x="1168" y="247" width="5" height="1" fill="#555555"/><rect x="1179" y="247" width="5" height="1" fill="#555555"/><rect x="1190" y="247" width="5" height="1" fill="#555555"/><rect x="1201" y="247" width="3" height="1" fill="#555555"/>
<rect x="0" y="1" width="1258" height="1" fill="#d6d6e6"/>
<rect x="0" y="439" width="1258" height="1" fill="#d6d6e6"/>
<rect x="0" y="0" width="1" height="441" fill="#d6d6e6"/>
<rect x="1203" y="2" width="1" height="437" fill="#d6d6e6"/>
<rect x="38" y="0" width="1" height="1" fill="#d6d6e6"/>
<rect x="77" y="0" width="1" height="1" fill="#d6d6e6"/>
<rect x="185" y="0" width="1" height="1" fill="#d6d6e6"/>
<rect x="1016" y="0" width="1" height="1" fill="#d6d6e6"/>
<rect x="1137" y="0" width="1" height="1" fill="#d6d6e6"/>
<rect x="1176" y="0" width="1" height="1" fill="#d6d6e6"/>
<rect x="1215" y="0" width="1" height="1" fill="#d6d6e6"/>
<rect x="1204" y="22" width="4" height="1" fill="#d6d6e6"/>
<rect x="1204" y="53" width="4" height="1" fill="#d6d6e6"/>
<rect x="1204" y="85" width="4" height="1" fill="#d6d6e6"/>
<rect x="1204" y="116" width="4" height="1" fill="#d6d6e6"/>
<rect x="1204" y="147" width="4" height="1" fill="#d6d6e6"/>
<rect x="1204" y="179" width="4" height="1" fill="#d6d6e6"/>
<rect x="1204" y="210" width="4" height="1" fill="#d6d6e6"/>
<rect x="1204" y="241" width="4" height="1" fill="#d6d6e6"/>
<rect x="1204" y="272" width="4" height="1" fill="#d6d6e6"/>
<rect x="1204" y="304" width="4" height="1" fill="#d6d6e6"/>
<rect x="1204" y="335" width="4" height="1" fill="#d6d6e6"/>
<rect x="1204" y="366" width="4" height="1" fill="#d6d6e6"/>
<rect x="1204" y="398" width="4" height="1" fill="#d6d6e6"/>
<rect x="1204" y="429" width="4" height="1" fill="#d6d6e6"/>
</svg>
<div style="position:absolute;left:0;top:0;width:1258px;height:441px;will-change:transform">
<div class="ax" style="top:15px"><span style="position:absolute;left:9.00px;letter-spacing:-0.194px;">52000.0</span></div><div class="ax" style="top:46px"><span style="position:absolute;left:9.00px;letter-spacing:-0.194px;">51000.0</span></div><div class="ax" style="top:78px"><span style="position:absolute;left:9.00px;letter-spacing:-0.194px;">50000.0</span></div><div class="ax" style="top:109px"><span style="position:absolute;left:9.00px;letter-spacing:-0.194px;">49000.0</span></div><div class="ax" style="top:140px"><span style="position:absolute;left:9.00px;letter-spacing:-0.194px;">48000.0</span></div><div class="ax" style="top:172px"><span style="position:absolute;left:9.00px;letter-spacing:-0.194px;">47000.0</span></div><div class="ax" style="top:203px"><span style="position:absolute;left:9.00px;letter-spacing:-0.194px;">46000.0</span></div><div class="ax" style="top:234px"><span style="position:absolute;left:9.00px;letter-spacing:-0.194px;">45000.0</span></div><div class="ax" style="top:265px"><span style="position:absolute;left:9.00px;letter-spacing:-0.194px;">44000.0</span></div><div class="ax" style="top:297px"><span style="position:absolute;left:9.00px;letter-spacing:-0.194px;">43000.0</span></div><div class="ax" style="top:328px"><span style="position:absolute;left:9.00px;letter-spacing:-0.194px;">42000.0</span></div><div class="ax" style="top:359px"><span style="position:absolute;left:9.00px;letter-spacing:-0.194px;">41000.0</span></div><div class="ax" style="top:391px"><span style="position:absolute;left:9.00px;letter-spacing:-0.194px;">40000.0</span></div><div class="ax" style="top:422px"><span style="position:absolute;left:9.00px;letter-spacing:-0.194px;">39000.0</span></div>
<div class="lgb" style="left:5px;top:14px;width:338px;height:16px"></div>
<div class="lgb" style="left:5px;top:33px;width:68px;height:21px"></div>
<div class="lg" style="top:12px;height:17px;line-height:17px"><span style="position:absolute;left:9.30px;letter-spacing:0.000px;color:#50535e;transform:scaleX(0.86);transform-origin:0 0;">O</span><span style="position:absolute;left:19.30px;letter-spacing:0.287px;">42058.0</span><span style="position:absolute;left:71.10px;letter-spacing:0.000px;color:#50535e;transform:scaleX(0.86);transform-origin:0 0;">H</span><span style="position:absolute;left:80.10px;letter-spacing:0.287px;">42305.0</span><span style="position:absolute;left:132.50px;letter-spacing:0.000px;color:#50535e;transform:scaleX(0.86);transform-origin:0 0;">L</span><span style="position:absolute;left:139.40px;letter-spacing:0.304px;">42056.8</span><span style="position:absolute;left:190.80px;letter-spacing:0.000px;color:#50535e;transform:scaleX(0.86);transform-origin:0 0;">C</span><span style="position:absolute;left:200.00px;letter-spacing:0.254px;">42131.9</span><span style="position:absolute;left:252.00px;letter-spacing:-0.016px;">+79.1</span><span style="position:absolute;left:288.40px;letter-spacing:-0.104px;">(+0.19%)</span></div>
<div class="lg" style="top:35px;height:17px;line-height:17px"><span style="position:absolute;left:10.00px;letter-spacing:0.435px;color:#3c3f4a;">Volume</span><span style="position:absolute;left:60.80px;letter-spacing:0.000px;color:#5bbcb2;">4</span></div>

<div class="pl" style="top:169px;background:#00923f;color:#fff;"><b style="background:#fff"></b><span style="position:absolute;left:9.00px;letter-spacing:-0.194px;">47040.0</span></div>
<div class="pl" style="top:196px;background:#00923f;color:#fff;"><b style="background:#fff"></b><span style="position:absolute;left:9.00px;letter-spacing:-0.194px;">46200.0</span></div>
<div class="pl" style="top:218px;background:#00923f;color:#fff;"><b style="background:#fff"></b><span style="position:absolute;left:9.00px;letter-spacing:-0.194px;">45498.6</span></div>
<div class="pl" style="top:239px;background:#555555;color:#fff;"><b style="background:#fff"></b><span style="position:absolute;left:9.00px;letter-spacing:-0.194px;">44797.2</span></div>
<div class="pl" style="top:340px;background:#d3be2c;color:#111;"><b style="background:#111"></b><span style="position:absolute;left:9.90px;letter-spacing:-0.344px;">42000.0</span></div>
<div class="pl" style="top:323px;background:#26a69a;color:#fff;font-weight:bold;"><b style="background:#fff"></b><span style="position:absolute;left:9.00px;letter-spacing:-0.194px;">42131.9</span></div>

<div class="box" style="left:1021px;top:167px;width:147px;color:#00923f;border-color:#00923f"><i style="left:3px;top:4px;background:#00923f"></i><i style="left:3px;top:6px;background:#00923f"></i><i style="left:3px;top:8px;background:#00923f"></i><i style="left:3px;top:10px;background:#00923f"></i><i style="left:3px;top:12px;background:#00923f"></i><i style="left:3px;top:14px;background:#00923f"></i><span style="position:absolute;left:12.70px;letter-spacing:-0.031px;top:0;height:19px;line-height:17px;transform:translateY(0.6px);">Take profit</span><span class="v" style="left:74px;width:71px;background:#00923f"><span style="position:absolute;left:5.50px;letter-spacing:0.265px;top:0;line-height:17px;transform:translateY(0.6px);">0.01785714</span></span></div>
<div class="box" style="left:1021px;top:194px;width:147px;color:#00923f;border-color:#00923f"><i style="left:3px;top:4px;background:#00923f"></i><i style="left:3px;top:6px;background:#00923f"></i><i style="left:3px;top:8px;background:#00923f"></i><i style="left:3px;top:10px;background:#00923f"></i><i style="left:3px;top:12px;background:#00923f"></i><i style="left:3px;top:14px;background:#00923f"></i><span style="position:absolute;left:12.70px;letter-spacing:-0.031px;top:0;height:19px;line-height:17px;transform:translateY(0.6px);">Take profit</span><span class="v" style="left:74px;width:71px;background:#00923f"><span style="position:absolute;left:5.50px;letter-spacing:0.332px;top:0;line-height:17px;transform:translateY(0.6px);">0.01190476</span></span></div>
<div class="box" style="left:979px;top:216px;width:189px;color:#00923f;border-color:#00923f"><i style="left:3px;top:4px;background:#00923f"></i><i style="left:3px;top:6px;background:#00923f"></i><i style="left:3px;top:8px;background:#00923f"></i><i style="left:3px;top:10px;background:#00923f"></i><i style="left:3px;top:12px;background:#00923f"></i><i style="left:3px;top:14px;background:#00923f"></i><span style="position:absolute;left:13.00px;letter-spacing:0.020px;top:0;height:19px;line-height:17px;transform:translateY(0.6px);">Take Profit Trigger price +1.67%</span></div>
<div class="box" style="left:941px;top:237px;width:227px;color:#111;border-color:#555555"><i style="left:3px;top:4px;background:#555555"></i><i style="left:3px;top:6px;background:#555555"></i><i style="left:3px;top:8px;background:#555555"></i><i style="left:3px;top:10px;background:#555555"></i><i style="left:3px;top:12px;background:#555555"></i><i style="left:3px;top:14px;background:#555555"></i><span style="position:absolute;left:13.50px;letter-spacing:0.086px;top:0;height:19px;line-height:17px;transform:translateY(0.6px);">Trailing Take profit +6.66%</span><span class="v" style="left:161px;width:64px;background:#555555"><span style="position:absolute;left:5.30px;letter-spacing:0.250px;top:0;line-height:17px;transform:translateY(0.6px);">0.0595238</span></span></div>
<div class="box" style="left:1058px;top:325px;width:110px;color:#111;border-color:#d3be2c"><i style="left:3px;top:4px;background:#d3be2c"></i><i style="left:3px;top:6px;background:#d3be2c"></i><i style="left:3px;top:8px;background:#d3be2c"></i><i style="left:3px;top:10px;background:#d3be2c"></i><i style="left:3px;top:12px;background:#d3be2c"></i><i style="left:3px;top:14px;background:#d3be2c"></i><span style="position:absolute;left:12.50px;letter-spacing:-0.452px;top:0;height:19px;line-height:17px;transform:translateY(0.6px);">Price</span><span class="v" style="left:44px;width:64px;background:#d3be2c"><span style="position:absolute;left:5.30px;letter-spacing:0.250px;top:0;line-height:17px;transform:translateY(0.6px);">0.0595238</span></span></div>

</div>
<svg width="36" height="36" viewBox="6 397 36 36" style="position:absolute;left:6px;top:397px">
<circle cx="24.3" cy="415.4" r="16.6" fill="#fff" stroke="#e2e2e2" stroke-width="1.2"/>
<g fill="#2d9bf0"><circle cx="17.8" cy="417.5" r="3.9"/><circle cx="23.1" cy="413.2" r="4.5"/><circle cx="30.8" cy="417" r="4.4"/><rect x="17.8" y="414" width="13" height="7.4"/></g>
<path d="M14.3 420.2 L21.3 414.4 L27.1 419.5 L32.6 414.1" fill="none" stroke="#fff" stroke-width="1.5" stroke-linejoin="round" stroke-linecap="round"/>
</svg>
</body></html>
